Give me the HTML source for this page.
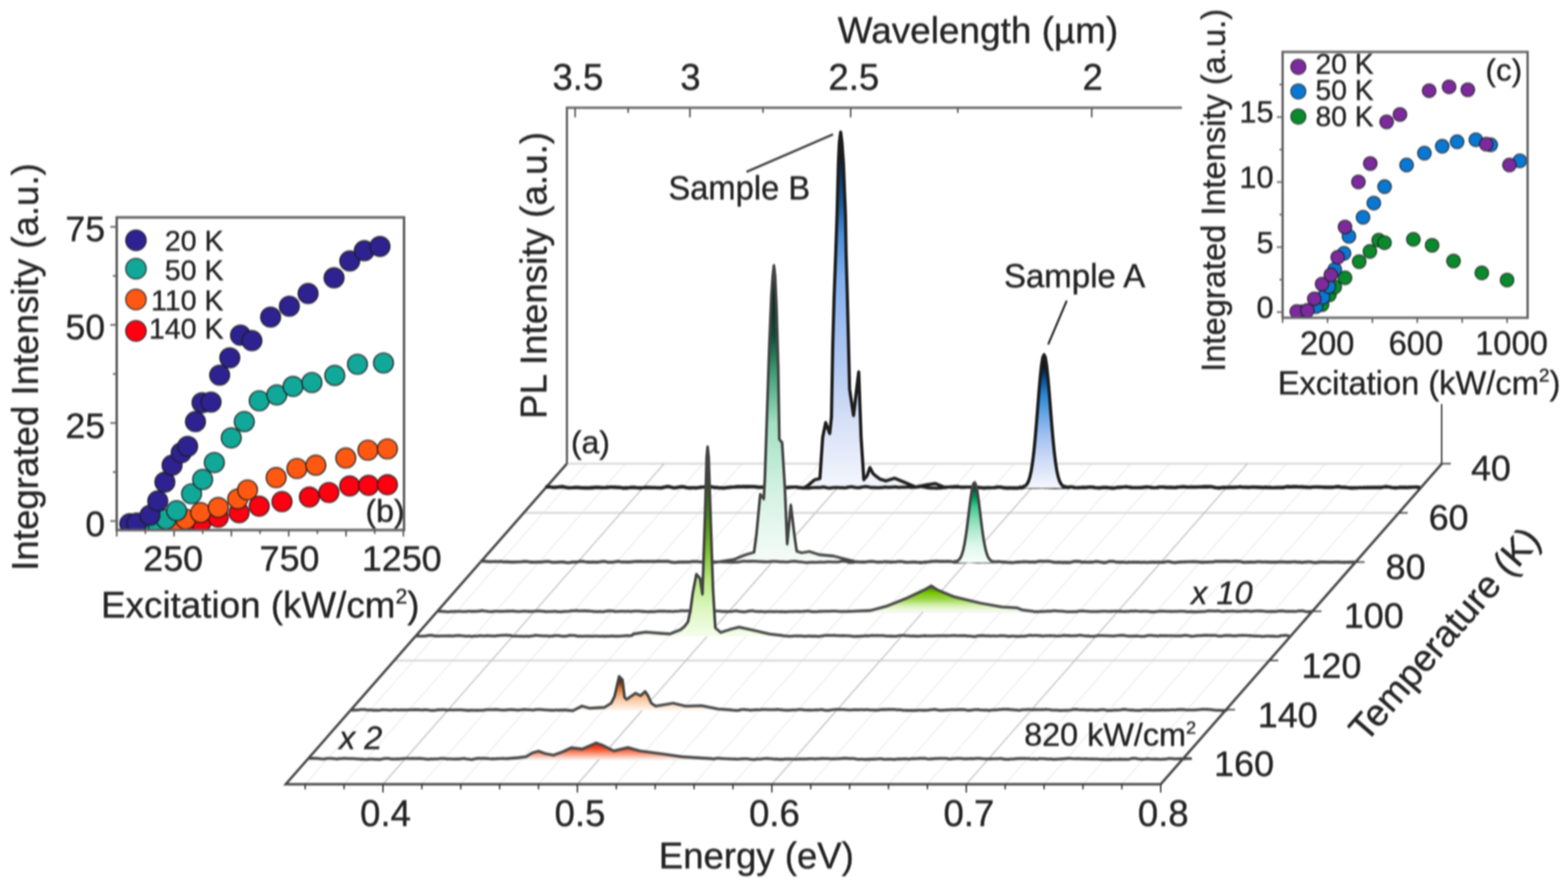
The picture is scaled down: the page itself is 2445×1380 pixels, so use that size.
<!DOCTYPE html>
<html><head><meta charset="utf-8"><title>PL spectra figure</title>
<style>html,body{margin:0;padding:0;background:#fff;} svg{display:block;}</style>
</head><body>
<svg width="2445" height="1380" viewBox="0 0 2445 1380" font-family="Liberation Sans, Arial, Helvetica, sans-serif">
<rect width="100%" height="100%" fill="#fff"/>
<defs>
<linearGradient id="gB" x1="0" y1="0" x2="0" y2="1"><stop offset="0" stop-color="#02060c"/><stop offset="0.07" stop-color="#061a30"/><stop offset="0.125" stop-color="#0a3a6a"/><stop offset="0.2" stop-color="#1a5a9a"/><stop offset="0.29" stop-color="#4a8fd8"/><stop offset="0.41" stop-color="#80b0f0"/><stop offset="0.55" stop-color="#a0bff0"/><stop offset="0.68" stop-color="#b8cdf2"/><stop offset="0.82" stop-color="#d8e1f7"/><stop offset="1" stop-color="#f4f7fd"/></linearGradient>
<linearGradient id="gA" x1="0" y1="0" x2="0" y2="1"><stop offset="0" stop-color="#02060c"/><stop offset="0.1" stop-color="#051a30"/><stop offset="0.2" stop-color="#0a5aa0"/><stop offset="0.3" stop-color="#2a86d6"/><stop offset="0.45" stop-color="#6aa6e6"/><stop offset="0.6" stop-color="#a0c0f0"/><stop offset="0.8" stop-color="#d0ddf7"/><stop offset="1" stop-color="#f6f8fd"/></linearGradient>
<linearGradient id="gT" x1="0" y1="0" x2="0" y2="1"><stop offset="0" stop-color="#020c08"/><stop offset="0.1" stop-color="#06281c"/><stop offset="0.23" stop-color="#0c4a34"/><stop offset="0.35" stop-color="#3a9a70"/><stop offset="0.53" stop-color="#a2e0c2"/><stop offset="0.75" stop-color="#d2f1e2"/><stop offset="1" stop-color="#f7fcf9"/></linearGradient>
<linearGradient id="gT2" x1="0" y1="0" x2="0" y2="1"><stop offset="0" stop-color="#020a06"/><stop offset="0.1" stop-color="#0a5a3a"/><stop offset="0.2" stop-color="#00a060"/><stop offset="0.3" stop-color="#40c890"/><stop offset="0.45" stop-color="#82dcb2"/><stop offset="0.6" stop-color="#b2eacf"/><stop offset="0.8" stop-color="#e0f8ee"/><stop offset="1" stop-color="#f8fffc"/></linearGradient>
<linearGradient id="gG" x1="0" y1="0" x2="0" y2="1"><stop offset="0" stop-color="#3a6c00"/><stop offset="0.25" stop-color="#76c200"/><stop offset="0.5" stop-color="#98d646"/><stop offset="0.75" stop-color="#d6f0b2"/><stop offset="1" stop-color="#fafef5"/></linearGradient>
<linearGradient id="gY" x1="0" y1="0" x2="0" y2="1"><stop offset="0" stop-color="#050a02"/><stop offset="0.12" stop-color="#1a3a06"/><stop offset="0.25" stop-color="#2e6a0a"/><stop offset="0.4" stop-color="#4f960e"/><stop offset="0.55" stop-color="#7cc030"/><stop offset="0.7" stop-color="#b8e880"/><stop offset="0.85" stop-color="#dcf6c0"/><stop offset="1" stop-color="#f6fdec"/></linearGradient>
<linearGradient id="gO" x1="0" y1="0" x2="0" y2="1"><stop offset="0" stop-color="#180700"/><stop offset="0.18" stop-color="#782e00"/><stop offset="0.35" stop-color="#de782e"/><stop offset="0.6" stop-color="#f7be92"/><stop offset="0.85" stop-color="#fde3cf"/><stop offset="1" stop-color="#fff9f5"/></linearGradient>
<linearGradient id="gR" x1="0" y1="0" x2="0" y2="1"><stop offset="0" stop-color="#e01a00"/><stop offset="0.35" stop-color="#f34e2a"/><stop offset="0.65" stop-color="#f99a7e"/><stop offset="1" stop-color="#fff1ed"/></linearGradient>
<filter id="soft" x="0" y="0" width="2445" height="1380" filterUnits="userSpaceOnUse" color-interpolation-filters="sRGB"><feGaussianBlur stdDeviation="1.1 1.4"/></filter>
<clipPath id="cb"><rect x="182" y="339" width="448" height="487.5"/></clipPath>
<clipPath id="cc"><rect x="2000" y="81" width="382" height="414.5"/></clipPath>
</defs>
<g filter="url(#soft)">
<rect width="2445" height="1380" fill="#fff"/>
<line x1="914.32" y1="723" x2="475.86" y2="1222.83" stroke="#efefef" stroke-width="2"/>
<line x1="974.96" y1="723" x2="536.5" y2="1222.83" stroke="#efefef" stroke-width="2"/>
<line x1="1096.24" y1="723" x2="657.78" y2="1222.83" stroke="#efefef" stroke-width="2"/>
<line x1="1156.88" y1="723" x2="718.42" y2="1222.83" stroke="#efefef" stroke-width="2"/>
<line x1="1217.52" y1="723" x2="779.06" y2="1222.83" stroke="#efefef" stroke-width="2"/>
<line x1="1278.16" y1="723" x2="839.7" y2="1222.83" stroke="#efefef" stroke-width="2"/>
<line x1="1399.44" y1="723" x2="960.98" y2="1222.83" stroke="#efefef" stroke-width="2"/>
<line x1="1460.08" y1="723" x2="1021.62" y2="1222.83" stroke="#efefef" stroke-width="2"/>
<line x1="1520.72" y1="723" x2="1082.26" y2="1222.83" stroke="#efefef" stroke-width="2"/>
<line x1="1581.36" y1="723" x2="1142.9" y2="1222.83" stroke="#efefef" stroke-width="2"/>
<line x1="1702.64" y1="723" x2="1264.18" y2="1222.83" stroke="#efefef" stroke-width="2"/>
<line x1="1763.28" y1="723" x2="1324.82" y2="1222.83" stroke="#efefef" stroke-width="2"/>
<line x1="1823.92" y1="723" x2="1385.46" y2="1222.83" stroke="#efefef" stroke-width="2"/>
<line x1="1884.56" y1="723" x2="1446.1" y2="1222.83" stroke="#efefef" stroke-width="2"/>
<line x1="2005.84" y1="723" x2="1567.38" y2="1222.83" stroke="#efefef" stroke-width="2"/>
<line x1="2066.48" y1="723" x2="1628.02" y2="1222.83" stroke="#efefef" stroke-width="2"/>
<line x1="2127.12" y1="723" x2="1688.66" y2="1222.83" stroke="#efefef" stroke-width="2"/>
<line x1="2187.76" y1="723" x2="1749.3" y2="1222.83" stroke="#efefef" stroke-width="2"/>
<line x1="884" y1="723" x2="2248.4" y2="723" stroke="#d7d7d7" stroke-width="3"/>
<line x1="816.7" y1="799.72" x2="2181.1" y2="799.72" stroke="#d7d7d7" stroke-width="3"/>
<line x1="749.4" y1="876.44" x2="2113.8" y2="876.44" stroke="#d7d7d7" stroke-width="3"/>
<line x1="682.1" y1="953.16" x2="2046.5" y2="953.16" stroke="#d7d7d7" stroke-width="3"/>
<line x1="614.8" y1="1029.88" x2="1979.2" y2="1029.88" stroke="#d7d7d7" stroke-width="3"/>
<line x1="547.5" y1="1106.6" x2="1911.9" y2="1106.6" stroke="#d7d7d7" stroke-width="3"/>
<line x1="480.2" y1="1183.32" x2="1844.6" y2="1183.32" stroke="#d7d7d7" stroke-width="3"/>
<line x1="1035.6" y1="723" x2="597.14" y2="1222.83" stroke="#bcbcbc" stroke-width="1.7"/>
<line x1="1338.8" y1="723" x2="900.34" y2="1222.83" stroke="#bcbcbc" stroke-width="1.7"/>
<line x1="1642" y1="723" x2="1203.54" y2="1222.83" stroke="#bcbcbc" stroke-width="1.7"/>
<line x1="1945.2" y1="723" x2="1506.74" y2="1222.83" stroke="#bcbcbc" stroke-width="1.7"/>
<polyline points="884,723 445.54,1222.83 1809.94,1222.83 2248.4,723" fill="none" stroke="#444" stroke-width="3.8" stroke-linejoin="miter"/>
<line x1="475.86" y1="1222.83" x2="475.86" y2="1230.83" stroke="#333" stroke-width="2.2"/>
<line x1="536.5" y1="1222.83" x2="536.5" y2="1230.83" stroke="#333" stroke-width="2.2"/>
<line x1="597.14" y1="1222.83" x2="597.14" y2="1235.83" stroke="#333" stroke-width="2.2"/>
<line x1="657.78" y1="1222.83" x2="657.78" y2="1230.83" stroke="#333" stroke-width="2.2"/>
<line x1="718.42" y1="1222.83" x2="718.42" y2="1230.83" stroke="#333" stroke-width="2.2"/>
<line x1="779.06" y1="1222.83" x2="779.06" y2="1230.83" stroke="#333" stroke-width="2.2"/>
<line x1="839.7" y1="1222.83" x2="839.7" y2="1230.83" stroke="#333" stroke-width="2.2"/>
<line x1="900.34" y1="1222.83" x2="900.34" y2="1235.83" stroke="#333" stroke-width="2.2"/>
<line x1="960.98" y1="1222.83" x2="960.98" y2="1230.83" stroke="#333" stroke-width="2.2"/>
<line x1="1021.62" y1="1222.83" x2="1021.62" y2="1230.83" stroke="#333" stroke-width="2.2"/>
<line x1="1082.26" y1="1222.83" x2="1082.26" y2="1230.83" stroke="#333" stroke-width="2.2"/>
<line x1="1142.9" y1="1222.83" x2="1142.9" y2="1230.83" stroke="#333" stroke-width="2.2"/>
<line x1="1203.54" y1="1222.83" x2="1203.54" y2="1235.83" stroke="#333" stroke-width="2.2"/>
<line x1="1264.18" y1="1222.83" x2="1264.18" y2="1230.83" stroke="#333" stroke-width="2.2"/>
<line x1="1324.82" y1="1222.83" x2="1324.82" y2="1230.83" stroke="#333" stroke-width="2.2"/>
<line x1="1385.46" y1="1222.83" x2="1385.46" y2="1230.83" stroke="#333" stroke-width="2.2"/>
<line x1="1446.1" y1="1222.83" x2="1446.1" y2="1230.83" stroke="#333" stroke-width="2.2"/>
<line x1="1506.74" y1="1222.83" x2="1506.74" y2="1235.83" stroke="#333" stroke-width="2.2"/>
<line x1="1567.38" y1="1222.83" x2="1567.38" y2="1230.83" stroke="#333" stroke-width="2.2"/>
<line x1="1628.02" y1="1222.83" x2="1628.02" y2="1230.83" stroke="#333" stroke-width="2.2"/>
<line x1="1688.66" y1="1222.83" x2="1688.66" y2="1230.83" stroke="#333" stroke-width="2.2"/>
<line x1="1749.3" y1="1222.83" x2="1749.3" y2="1230.83" stroke="#333" stroke-width="2.2"/>
<line x1="1809.94" y1="1222.83" x2="1809.94" y2="1235.83" stroke="#333" stroke-width="2.2"/>
<line x1="2248.4" y1="723" x2="2262.4" y2="723" stroke="#333" stroke-width="2.2"/>
<line x1="2181.1" y1="799.72" x2="2195.1" y2="799.72" stroke="#333" stroke-width="2.2"/>
<line x1="2113.8" y1="876.44" x2="2127.8" y2="876.44" stroke="#333" stroke-width="2.2"/>
<line x1="2046.5" y1="953.16" x2="2060.5" y2="953.16" stroke="#333" stroke-width="2.2"/>
<line x1="1979.2" y1="1029.88" x2="1993.2" y2="1029.88" stroke="#333" stroke-width="2.2"/>
<line x1="1911.9" y1="1106.6" x2="1925.9" y2="1106.6" stroke="#333" stroke-width="2.2"/>
<line x1="1844.6" y1="1183.32" x2="1858.6" y2="1183.32" stroke="#333" stroke-width="2.2"/>
<polyline points="884,723 884,168 1843,168" fill="none" stroke="#5c5c5c" stroke-width="3.4"/>
<line x1="896.82" y1="168" x2="896.82" y2="183" stroke="#5c5c5c" stroke-width="2.6"/>
<line x1="979.44" y1="168" x2="979.44" y2="176" stroke="#5c5c5c" stroke-width="2.6"/>
<line x1="1075.82" y1="168" x2="1075.82" y2="183" stroke="#5c5c5c" stroke-width="2.6"/>
<line x1="1189.74" y1="168" x2="1189.74" y2="176" stroke="#5c5c5c" stroke-width="2.6"/>
<line x1="1326.43" y1="168" x2="1326.43" y2="183" stroke="#5c5c5c" stroke-width="2.6"/>
<line x1="1493.5" y1="168" x2="1493.5" y2="176" stroke="#5c5c5c" stroke-width="2.6"/>
<line x1="1702.34" y1="168" x2="1702.34" y2="183" stroke="#5c5c5c" stroke-width="2.6"/>
<path d="M850.35,759.52 L853.35,759.16 L856.36,759.38 L859.36,759.48 L862.37,759.98 L865.37,760.03 L868.38,759.66 L871.38,759.3 L874.39,759.18 L877.39,759.03 L880.4,759.52 L883.4,760.31 L886.41,760.8 L889.41,760.49 L892.42,760.61 L895.42,759.97 L898.43,760.04 L901.43,760.07 L904.44,760.27 L907.44,760.52 L910.45,760.48 L913.45,760.66 L916.46,760.66 L919.46,760.51 L922.47,760.29 L925.47,760.11 L928.48,760 L931.48,760.05 L934.48,760.05 L937.49,760.28 L940.49,760.29 L943.5,760.44 L946.5,760.18 L949.51,759.67 L952.51,759.68 L955.52,759.88 L958.52,759.96 L961.53,759.89 L964.53,759.86 L967.54,760.2 L970.54,760.7 L973.55,760.66 L976.55,760.59 L979.56,760.62 L982.56,760.31 L985.57,760.02 L988.57,759.98 L991.58,760.43 L994.58,760.64 L997.59,760.65 L1000.59,760.72 L1003.6,760.55 L1006.6,760.15 L1009.61,759.93 L1012.61,760.3 L1015.61,760.34 L1018.62,760.54 L1021.62,760.23 L1024.63,760.39 L1027.63,760.63 L1030.64,760.55 L1033.64,760.06 L1036.65,759.44 L1039.65,758.97 L1042.66,759.03 L1045.66,759.53 L1048.67,760.15 L1051.67,760.67 L1054.68,760.29 L1057.68,759.86 L1060.69,759.57 L1063.69,759.44 L1066.7,759.47 L1069.7,760.09 L1072.71,760.46 L1075.71,760.81 L1078.72,760.45 L1081.72,760.51 L1084.73,760.56 L1087.73,760.51 L1090.74,760.11 L1093.74,759.52 L1096.74,759.47 L1099.75,759.35 L1102.75,759.27 L1105.76,759.35 L1108.76,759.19 L1111.77,759.66 L1114.77,760.19 L1117.78,760.12 L1120.78,760.54 L1123.79,760.73 L1126.79,760.83 L1129.8,760.66 L1132.8,760.28 L1135.81,760.16 L1138.81,759.61 L1141.82,759.62 L1144.82,759.4 L1147.83,759.25 L1150.83,759 L1153.84,759.03 L1156.84,758.96 L1159.85,759.04 L1162.85,759.29 L1165.86,759.17 L1168.86,758.96 L1171.87,759.02 L1174.87,759.12 L1177.87,759.2 L1180.88,759.79 L1183.88,759.97 L1186.89,759.75 L1189.89,759.64 L1192.9,759.72 L1195.9,759.82 L1198.91,760.04 L1201.91,759.61 L1204.92,759.48 L1207.92,759.81 L1210.93,760 L1213.93,760.64 L1216.94,760.58 L1219.94,760.92 L1222.95,760.56 L1225.95,760.21 L1228.96,759.98 L1231.96,759.75 L1234.97,759.85 L1237.97,759.6 L1240.98,759.56 L1243.98,759.83 L1246.99,760.5 L1249.99,760.74 L1253,760.68 L1256,759.5 L1261,756 L1270,748.3 L1278.5,746 L1282.8,682 L1287.5,659 L1293.8,676 L1296.5,650 L1298.5,540 L1300.6,464 L1303.2,394 L1305.2,335 L1307.3,255 L1308.8,222 L1310.9,206 L1312.8,222 L1315.2,255 L1318.3,335 L1319.3,394 L1321.3,464 L1324.8,607 L1330.9,648 L1339,580 L1342.7,682 L1347,748 L1352,742 L1356.5,729.2 L1361,738 L1364.8,741.6 L1372,747 L1381.3,749.9 L1395.1,745.7 L1411.6,752.6 L1428,759.5 L1445,756 L1458.5,754 L1472,759.5 L1475.01,759.96 L1478.01,759.43 L1481.02,759.4 L1484.02,759.33 L1487.03,759.4 L1490.03,759.41 L1493.04,759.39 L1496.04,759.62 L1499.05,759.92 L1502.05,759.82 L1505.06,759.73 L1508.07,759.57 L1511.07,759.42 L1514.08,759.7 L1517.08,759.8 L1520.09,759.91 L1523.09,760.25 L1526.1,760.02 L1529.1,760.4 L1532.11,760.66 L1535.11,760.68 L1538.12,760.52 L1541.13,760.34 L1544.13,760.61 L1547.14,760.6 L1550.14,760.54 L1553.15,759.95 L1556.15,759.7 L1559.16,759.84 L1562.16,759.88 L1565.17,760.32 L1568.17,760.61 L1571.18,760.95 L1574.19,760.59 L1577.19,760.9 L1580.2,760.81 L1583.2,760.68 L1586.21,760.83 L1589.21,760.67 L1592.22,761.05 L1595.22,760.38 L1598.23,759.6 L1601.24,759.36 L1604.24,759.39 L1607.25,759.64 L1610.25,759.63 L1613.26,759.78 L1616.26,759.69 L1619.27,759.72 L1622.27,759.45 L1625.28,759.38 L1628.28,759.86 L1631.29,759.7 L1634.3,759.83 L1637.3,760.09 L1640.31,759.95 L1643.31,760.32 L1646.32,760.17 L1649.32,760.13 L1652.33,759.82 L1655.33,759.98 L1658.34,759.73 L1661.34,759.96 L1664.35,759.41 L1667.36,759.42 L1670.36,759.56 L1673.37,759.81 L1676.37,760.28 L1679.38,760.55 L1682.38,760.14 L1685.39,760.24 L1688.39,759.99 L1691.4,760.22 L1694.4,759.93 L1697.41,759.75 L1700.42,759.73 L1703.42,759.7 L1706.43,760.21 L1709.43,760.6 L1712.44,760.84 L1715.44,760.56 L1718.45,760.3 L1721.45,760.05 L1724.46,760.15 L1727.46,760.48 L1730.47,760.84 L1733.48,760.67 L1736.48,760.93 L1739.49,760.62 L1742.49,760.01 L1745.5,760.07 L1748.5,759.71 L1751.51,759.47 L1754.51,759.14 L1757.52,759.51 L1760.52,759.87 L1763.53,759.91 L1766.54,760.41 L1769.54,760.12 L1772.55,760.49 L1775.55,760.52 L1778.56,760.51 L1781.56,760.05 L1784.57,759.77 L1787.57,759.77 L1790.58,759.38 L1793.58,759.87 L1796.59,760.36 L1799.6,760.51 L1802.6,760.36 L1805.61,760.12 L1808.61,759.34 L1811.62,759.43 L1814.62,759.37 L1817.63,759.79 L1820.63,760.14 L1823.64,759.88 L1826.64,760.31 L1829.65,760.18 L1832.66,760.26 L1835.66,759.8 L1838.67,759.41 L1841.67,759.51 L1844.68,759.11 L1847.68,759.32 L1850.69,759.69 L1853.69,759.74 L1856.7,759.41 L1859.71,759.79 L1862.71,759.61 L1865.72,759.67 L1868.72,759.3 L1871.73,759.5 L1874.73,759.25 L1877.74,759.48 L1880.74,759.32 L1883.75,759.39 L1886.75,759.02 L1889.76,759.1 L1892.77,759.97 L1895.77,760.34 L1898.78,760.56 L1901.78,760.77 L1904.79,760.23 L1907.79,759.96 L1910.8,759.96 L1913.8,759.89 L1916.81,759.89 L1919.81,759.82 L1922.82,759.92 L1925.83,759.71 L1928.83,759.7 L1931.84,759.36 L1934.84,759.39 L1937.85,759.68 L1940.85,759.71 L1943.86,759.75 L1946.86,759.99 L1949.87,759.72 L1952.87,759.41 L1955.88,759.8 L1958.89,759.52 L1961.89,760.04 L1964.9,759.92 L1967.9,760.13 L1970.91,759.92 L1973.91,759.99 L1976.92,760.24 L1979.92,760.01 L1982.93,760.4 L1985.93,760.43 L1988.94,760.28 L1991.95,760.22 L1994.95,760.04 L1997.96,760.06 L2000.96,760.19 L2003.97,759.55 L2006.97,759.14 L2009.98,759.4 L2012.98,759.42 L2015.99,759.33 L2018.99,759.14 L2022,759.17 L2025.01,759.35 L2028.01,759.32 L2031.02,759.42 L2034.02,759.83 L2037.03,759.98 L2040.03,759.9 L2043.04,760.13 L2046.04,759.7 L2049.05,759.57 L2052.05,759.3 L2055.06,759.55 L2058.07,759.65 L2061.07,759.6 L2064.08,759.54 L2067.08,759.71 L2070.09,759.71 L2073.09,759.94 L2076.1,759.75 L2079.1,759.66 L2082.11,759.27 L2085.11,759.23 L2088.12,759.38 L2091.13,759.65 L2094.13,760.02 L2097.14,760 L2100.14,760.08 L2103.15,760.67 L2106.15,760.46 L2109.16,760.75 L2112.16,760.37 L2115.17,760.65 L2118.18,760.6 L2121.18,760.5 L2124.19,760.48 L2127.19,760.08 L2130.2,760.23 L2133.2,760.36 L2136.21,760.27 L2139.21,760.22 L2142.22,760.24 L2145.22,760.17 L2148.23,760.22 L2151.24,760.01 L2154.24,759.87 L2157.25,759.62 L2160.25,759.1 L2163.26,759.19 L2166.26,759.51 L2169.27,760.1 L2172.27,760.61 L2175.28,760.34 L2178.28,760.55 L2181.29,760.26 L2184.3,759.99 L2187.3,760.07 L2190.31,759.8 L2193.31,760.17 L2196.32,759.85 L2199.32,759.84 L2202.33,759.86 L2205.33,759.43 L2208.34,759.82 L2211.34,759.85 L2214.35,760.16 L2214.35,761 L850.35,761 Z" fill="url(#gB)" stroke="none"/>
<path d="M850.35,759.52 L853.35,759.16 L856.36,759.38 L859.36,759.48 L862.37,759.98 L865.37,760.03 L868.38,759.66 L871.38,759.3 L874.39,759.18 L877.39,759.03 L880.4,759.52 L883.4,760.31 L886.41,760.8 L889.41,760.49 L892.42,760.61 L895.42,759.97 L898.43,760.04 L901.43,760.07 L904.44,760.27 L907.44,760.52 L910.45,760.48 L913.45,760.66 L916.46,760.66 L919.46,760.51 L922.47,760.29 L925.47,760.11 L928.48,760 L931.48,760.05 L934.48,760.05 L937.49,760.28 L940.49,760.29 L943.5,760.44 L946.5,760.18 L949.51,759.67 L952.51,759.68 L955.52,759.88 L958.52,759.96 L961.53,759.89 L964.53,759.86 L967.54,760.2 L970.54,760.7 L973.55,760.66 L976.55,760.59 L979.56,760.62 L982.56,760.31 L985.57,760.02 L988.57,759.98 L991.58,760.43 L994.58,760.64 L997.59,760.65 L1000.59,760.72 L1003.6,760.55 L1006.6,760.15 L1009.61,759.93 L1012.61,760.3 L1015.61,760.34 L1018.62,760.54 L1021.62,760.23 L1024.63,760.39 L1027.63,760.63 L1030.64,760.55 L1033.64,760.06 L1036.65,759.44 L1039.65,758.97 L1042.66,759.03 L1045.66,759.53 L1048.67,760.15 L1051.67,760.67 L1054.68,760.29 L1057.68,759.86 L1060.69,759.57 L1063.69,759.44 L1066.7,759.47 L1069.7,760.09 L1072.71,760.46 L1075.71,760.81 L1078.72,760.45 L1081.72,760.51 L1084.73,760.56 L1087.73,760.51 L1090.74,760.11 L1093.74,759.52 L1096.74,759.47 L1099.75,759.35 L1102.75,759.27 L1105.76,759.35 L1108.76,759.19 L1111.77,759.66 L1114.77,760.19 L1117.78,760.12 L1120.78,760.54 L1123.79,760.73 L1126.79,760.83 L1129.8,760.66 L1132.8,760.28 L1135.81,760.16 L1138.81,759.61 L1141.82,759.62 L1144.82,759.4 L1147.83,759.25 L1150.83,759 L1153.84,759.03 L1156.84,758.96 L1159.85,759.04 L1162.85,759.29 L1165.86,759.17 L1168.86,758.96 L1171.87,759.02 L1174.87,759.12 L1177.87,759.2 L1180.88,759.79 L1183.88,759.97 L1186.89,759.75 L1189.89,759.64 L1192.9,759.72 L1195.9,759.82 L1198.91,760.04 L1201.91,759.61 L1204.92,759.48 L1207.92,759.81 L1210.93,760 L1213.93,760.64 L1216.94,760.58 L1219.94,760.92 L1222.95,760.56 L1225.95,760.21 L1228.96,759.98 L1231.96,759.75 L1234.97,759.85 L1237.97,759.6 L1240.98,759.56 L1243.98,759.83 L1246.99,760.5 L1249.99,760.74 L1253,760.68 L1256,759.5 L1261,756 L1270,748.3 L1278.5,746 L1282.8,682 L1287.5,659 L1293.8,676 L1296.5,650 L1298.5,540 L1300.6,464 L1303.2,394 L1305.2,335 L1307.3,255 L1308.8,222 L1310.9,206 L1312.8,222 L1315.2,255 L1318.3,335 L1319.3,394 L1321.3,464 L1324.8,607 L1330.9,648 L1339,580 L1342.7,682 L1347,748 L1352,742 L1356.5,729.2 L1361,738 L1364.8,741.6 L1372,747 L1381.3,749.9 L1395.1,745.7 L1411.6,752.6 L1428,759.5 L1445,756 L1458.5,754 L1472,759.5 L1475.01,759.96 L1478.01,759.43 L1481.02,759.4 L1484.02,759.33 L1487.03,759.4 L1490.03,759.41 L1493.04,759.39 L1496.04,759.62 L1499.05,759.92 L1502.05,759.82 L1505.06,759.73 L1508.07,759.57 L1511.07,759.42 L1514.08,759.7 L1517.08,759.8 L1520.09,759.91 L1523.09,760.25 L1526.1,760.02 L1529.1,760.4 L1532.11,760.66 L1535.11,760.68 L1538.12,760.52 L1541.13,760.34 L1544.13,760.61 L1547.14,760.6 L1550.14,760.54 L1553.15,759.95 L1556.15,759.7 L1559.16,759.84 L1562.16,759.88 L1565.17,760.32 L1568.17,760.61 L1571.18,760.95 L1574.19,760.59 L1577.19,760.9 L1580.2,760.81 L1583.2,760.68 L1586.21,760.83 L1589.21,760.67 L1592.22,761.05 L1595.22,760.38 L1598.23,759.6 L1601.24,759.36 L1604.24,759.39 L1607.25,759.64 L1610.25,759.63 L1613.26,759.78 L1616.26,759.69 L1619.27,759.72 L1622.27,759.45 L1625.28,759.38 L1628.28,759.86 L1631.29,759.7 L1634.3,759.83 L1637.3,760.09 L1640.31,759.95 L1643.31,760.32 L1646.32,760.17 L1649.32,760.13 L1652.33,759.82 L1655.33,759.98 L1658.34,759.73 L1661.34,759.96 L1664.35,759.41 L1667.36,759.42 L1670.36,759.56 L1673.37,759.81 L1676.37,760.28 L1679.38,760.55 L1682.38,760.14 L1685.39,760.24 L1688.39,759.99 L1691.4,760.22 L1694.4,759.93 L1697.41,759.75 L1700.42,759.73 L1703.42,759.7 L1706.43,760.21 L1709.43,760.6 L1712.44,760.84 L1715.44,760.56 L1718.45,760.3 L1721.45,760.05 L1724.46,760.15 L1727.46,760.48 L1730.47,760.84 L1733.48,760.67 L1736.48,760.93 L1739.49,760.62 L1742.49,760.01 L1745.5,760.07 L1748.5,759.71 L1751.51,759.47 L1754.51,759.14 L1757.52,759.51 L1760.52,759.87 L1763.53,759.91 L1766.54,760.41 L1769.54,760.12 L1772.55,760.49 L1775.55,760.52 L1778.56,760.51 L1781.56,760.05 L1784.57,759.77 L1787.57,759.77 L1790.58,759.38 L1793.58,759.87 L1796.59,760.36 L1799.6,760.51 L1802.6,760.36 L1805.61,760.12 L1808.61,759.34 L1811.62,759.43 L1814.62,759.37 L1817.63,759.79 L1820.63,760.14 L1823.64,759.88 L1826.64,760.31 L1829.65,760.18 L1832.66,760.26 L1835.66,759.8 L1838.67,759.41 L1841.67,759.51 L1844.68,759.11 L1847.68,759.32 L1850.69,759.69 L1853.69,759.74 L1856.7,759.41 L1859.71,759.79 L1862.71,759.61 L1865.72,759.67 L1868.72,759.3 L1871.73,759.5 L1874.73,759.25 L1877.74,759.48 L1880.74,759.32 L1883.75,759.39 L1886.75,759.02 L1889.76,759.1 L1892.77,759.97 L1895.77,760.34 L1898.78,760.56 L1901.78,760.77 L1904.79,760.23 L1907.79,759.96 L1910.8,759.96 L1913.8,759.89 L1916.81,759.89 L1919.81,759.82 L1922.82,759.92 L1925.83,759.71 L1928.83,759.7 L1931.84,759.36 L1934.84,759.39 L1937.85,759.68 L1940.85,759.71 L1943.86,759.75 L1946.86,759.99 L1949.87,759.72 L1952.87,759.41 L1955.88,759.8 L1958.89,759.52 L1961.89,760.04 L1964.9,759.92 L1967.9,760.13 L1970.91,759.92 L1973.91,759.99 L1976.92,760.24 L1979.92,760.01 L1982.93,760.4 L1985.93,760.43 L1988.94,760.28 L1991.95,760.22 L1994.95,760.04 L1997.96,760.06 L2000.96,760.19 L2003.97,759.55 L2006.97,759.14 L2009.98,759.4 L2012.98,759.42 L2015.99,759.33 L2018.99,759.14 L2022,759.17 L2025.01,759.35 L2028.01,759.32 L2031.02,759.42 L2034.02,759.83 L2037.03,759.98 L2040.03,759.9 L2043.04,760.13 L2046.04,759.7 L2049.05,759.57 L2052.05,759.3 L2055.06,759.55 L2058.07,759.65 L2061.07,759.6 L2064.08,759.54 L2067.08,759.71 L2070.09,759.71 L2073.09,759.94 L2076.1,759.75 L2079.1,759.66 L2082.11,759.27 L2085.11,759.23 L2088.12,759.38 L2091.13,759.65 L2094.13,760.02 L2097.14,760 L2100.14,760.08 L2103.15,760.67 L2106.15,760.46 L2109.16,760.75 L2112.16,760.37 L2115.17,760.65 L2118.18,760.6 L2121.18,760.5 L2124.19,760.48 L2127.19,760.08 L2130.2,760.23 L2133.2,760.36 L2136.21,760.27 L2139.21,760.22 L2142.22,760.24 L2145.22,760.17 L2148.23,760.22 L2151.24,760.01 L2154.24,759.87 L2157.25,759.62 L2160.25,759.1 L2163.26,759.19 L2166.26,759.51 L2169.27,760.1 L2172.27,760.61 L2175.28,760.34 L2178.28,760.55 L2181.29,760.26 L2184.3,759.99 L2187.3,760.07 L2190.31,759.8 L2193.31,760.17 L2196.32,759.85 L2199.32,759.84 L2202.33,759.86 L2205.33,759.43 L2208.34,759.82 L2211.34,759.85 L2214.35,760.16" fill="none" stroke="#1e1e1e" stroke-width="5" stroke-linejoin="round"/>
<path d="M850.35,759.19 L853.36,759.19 L856.36,759.34 L859.37,759.63 L862.38,760.03 L865.38,759.88 L868.39,759.64 L871.4,759.16 L874.4,758.99 L877.41,758.78 L880.42,759.55 L883.42,760.12 L886.43,760.62 L889.44,760.66 L892.44,760.62 L895.45,760.38 L898.46,760.29 L901.46,760.26 L904.47,760.67 L907.48,760.88 L910.48,760.91 L913.49,760.7 L916.5,761.04 L919.5,760.67 L922.51,760.98 L925.52,760.69 L928.52,759.97 L931.53,760.11 L934.54,760.36 L937.54,760.58 L940.55,760.43 L943.56,760.31 L946.56,759.96 L949.57,759.92 L952.58,759.34 L955.58,759.6 L958.59,759.6 L961.6,760.01 L964.6,760.3 L967.61,760.17 L970.62,761 L973.62,761.21 L976.63,761.37 L979.64,760.87 L982.65,760.11 L985.65,760.17 L988.66,760.1 L991.67,760.26 L994.67,760.62 L997.68,760.96 L1000.69,760.76 L1003.69,760.36 L1006.7,760.05 L1009.71,760.14 L1012.71,760.2 L1015.72,760.55 L1018.73,760.18 L1021.73,760.61 L1024.74,760.82 L1027.75,760.61 L1030.75,761.03 L1033.76,760.4 L1036.77,759.63 L1039.77,758.72 L1042.78,758.82 L1045.79,759.48 L1048.79,760.57 L1051.8,760.74 L1054.81,760.36 L1057.81,759.69 L1060.82,758.96 L1063.83,758.71 L1066.83,759.23 L1069.84,760.4 L1072.85,760.67 L1075.85,761.06 L1078.86,760.77 L1081.87,760.85 L1084.87,761 L1087.88,760.57 L1090.89,760 L1093.89,759.68 L1096.9,759.49 L1099.91,759.3 L1102.91,758.96 L1105.92,758.93 L1108.93,759.06 L1111.93,759.48 L1114.94,760.29 L1117.95,760.27 L1120.95,760.7 L1123.96,760.78 L1126.97,761.12 L1129.97,761.09 L1132.98,760.55 L1135.99,759.88 L1138.99,759.96 L1142,759.47 L1145.01,759.34 L1148.01,758.94 L1151.02,758.77 L1154.03,758.96 L1157.03,759.01 L1160.04,758.59 L1163.05,758.78 L1166.05,758.62 L1169.06,758.78 L1172.07,758.71 L1175.07,758.67 L1178.08,758.97 L1181.09,759.32 L1184.09,759.81 L1187.1,759.66 L1190.11,759.64 L1193.11,760.09 L1196.12,760.15 L1199.13,759.79 L1202.13,759.5 L1205.14,759.44 L1208.15,759.53 L1211.15,760.22 L1214.16,760.72 L1217.17,761.04 L1220.17,760.84 L1223.18,760.55 L1226.19,760.34 L1229.2,760.18 L1232.2,759.81 L1235.21,759.52 L1238.22,759.4 L1241.22,759.45 L1244.23,759.92 L1247.24,760.31 L1250.24,760.61 L1253.25,761 L1256.26,760.65 L1259.26,760.91 L1262.27,761.08 L1265.28,760.58 L1268.28,760.37 L1271.29,760.22 L1274.3,760.25 L1277.3,760.28 L1280.31,760 L1283.32,759.5 L1286.32,759.76 L1289.33,760.6 L1292.34,761.1 L1295.34,760.98 L1298.35,760.37 L1301.36,760.13 L1304.36,760.15 L1307.37,760.21 L1310.38,760.61 L1313.38,760.6 L1316.39,760.67 L1319.4,760.45 L1322.4,759.77 L1325.41,759.3 L1328.42,759.12 L1331.42,759.67 L1334.43,760.18 L1337.44,760.59 L1340.44,760.51 L1343.45,759.57 L1346.46,759.24 L1349.46,758.71 L1352.47,758.97 L1355.48,759.68 L1358.48,760.37 L1361.49,760.19 L1364.5,760.21 L1367.5,760.5 L1370.51,760.56 L1373.52,760.28 L1376.52,760.16 L1379.53,759.56 L1382.54,759.69 L1385.54,759.89 L1388.55,759.64 L1391.56,759.69 L1394.56,759.37 L1397.57,759.52 L1400.58,760.07 L1403.58,760.04 L1406.59,759.64 L1409.6,759.71 L1412.6,759.64 L1415.61,759.38 L1418.62,759.65 L1421.62,759.9 L1424.63,759.64 L1427.64,759.66 L1430.64,759.37 L1433.65,759.09 L1436.66,758.64 L1439.66,759.18 L1442.67,759.83 L1445.68,760.41 L1448.68,760.68 L1451.69,761.05 L1454.7,760.94 L1457.7,761.07 L1460.71,761.32 L1463.72,760.89 L1466.72,760.97 L1469.73,760.62 L1472.74,760.27 L1475.75,759.77 L1478.75,759.38 L1481.76,759.37 L1484.77,759.38 L1487.77,758.76 L1490.78,758.73 L1493.79,758.7 L1496.79,759.45 L1499.8,759.47 L1502.81,759.64 L1505.81,759.55 L1508.82,759.49 L1511.83,759.53 L1514.83,759.48 L1517.84,759.67 L1520.85,760.24 L1523.85,760.51 L1526.86,760.27 L1529.87,760.35 L1532.87,760.91 L1535.88,760.9 L1538.89,760.52 L1541.89,760.79 L1544.9,760.6 L1547.91,760.57 L1550.91,760.26 L1553.92,759.73 L1556.93,759.34 L1559.93,759.57 L1562.94,760.16 L1565.95,761.1 L1568.95,760.97 L1571.96,761.38 L1574.97,760.95 L1577.97,760.99 L1580.98,761.22 L1583.99,761.27 L1586.99,761.16 L1590,759.84 L1592,759.53 L1594,760.25 L1596,758.45 L1598,757.85 L1600,756.51 L1602,753.87 L1604,749.68 L1606,743.34 L1608,734.2 L1610,721.68 L1612,705.41 L1614,685.39 L1616,662.19 L1618,637.01 L1620,611.66 L1622,588.38 L1624,569.54 L1626,557.27 L1628,553 L1630,557.27 L1632,569.54 L1634,588.38 L1636,611.66 L1638,637.01 L1640,662.19 L1642,685.39 L1644,705.41 L1646,721.68 L1648,734.2 L1650,743.34 L1652,749.68 L1654,753.87 L1656,756.51 L1658,758.8 L1660,758.15 L1662,759.34 L1664,760.32 L1666,760.37 L1669.01,758.97 L1672.03,759.37 L1675.04,760.39 L1678.05,760.44 L1681.06,760.67 L1684.08,760.59 L1687.09,760.14 L1690.1,760.03 L1693.12,760.24 L1696.13,759.78 L1699.14,759.35 L1702.15,759.57 L1705.17,759.85 L1708.18,760.52 L1711.19,760.8 L1714.21,761.1 L1717.22,760.8 L1720.23,760.25 L1723.25,760.25 L1726.26,760.02 L1729.27,760.58 L1732.28,761.07 L1735.3,761.34 L1738.31,761.04 L1741.32,760.35 L1744.34,760.04 L1747.35,760 L1750.36,759.6 L1753.37,759.38 L1756.39,758.86 L1759.4,759.48 L1762.41,760.03 L1765.43,760.53 L1768.44,760.58 L1771.45,760.49 L1774.46,760.34 L1777.48,760.33 L1780.49,760.21 L1783.5,759.98 L1786.52,759.2 L1789.53,759.13 L1792.54,759.77 L1795.56,760.18 L1798.57,760.58 L1801.58,760.55 L1804.59,760.27 L1807.61,759.48 L1810.62,759.45 L1813.63,759.53 L1816.65,759.94 L1819.66,759.92 L1822.67,759.93 L1825.68,759.91 L1828.7,760.07 L1831.71,760.14 L1834.72,759.94 L1837.74,759.48 L1840.75,759.14 L1843.76,759.03 L1846.77,759.12 L1849.79,759.33 L1852.8,759.54 L1855.81,759.48 L1858.83,759.21 L1861.84,759.55 L1864.85,759.27 L1867.87,759.38 L1870.88,759.13 L1873.89,759.13 L1876.9,758.78 L1879.92,758.8 L1882.93,758.78 L1885.94,758.72 L1888.96,759.12 L1891.97,759.51 L1894.98,760.24 L1897.99,760.83 L1901.01,761.11 L1904.02,760.59 L1907.03,760.14 L1910.05,760.29 L1913.06,760.2 L1916.07,760.34 L1919.08,759.88 L1922.1,760.04 L1925.11,759.97 L1928.12,759.63 L1931.14,759.44 L1934.15,759.07 L1937.16,759.47 L1940.17,759.69 L1943.19,759.84 L1946.2,760.11 L1949.21,759.65 L1952.23,759.61 L1955.24,759.31 L1958.25,759.72 L1961.27,759.76 L1964.28,759.81 L1967.29,760.08 L1970.3,760.18 L1973.32,759.78 L1976.33,760.04 L1979.34,760.15 L1982.36,760.16 L1985.37,760.4 L1988.38,760.3 L1991.39,760.29 L1994.41,760.26 L1997.42,760.4 L2000.43,760.26 L2003.45,759.48 L2006.46,758.82 L2009.47,758.8 L2012.48,758.98 L2015.5,758.75 L2018.51,758.82 L2021.52,758.79 L2024.54,759.22 L2027.55,759.26 L2030.56,759.11 L2033.58,759.2 L2036.59,759.55 L2039.6,759.82 L2042.61,759.92 L2045.63,759.53 L2048.64,759.35 L2051.65,759.45 L2054.67,759.31 L2057.68,759.36 L2060.69,759.52 L2063.7,759.92 L2066.72,759.64 L2069.73,759.9 L2072.74,759.91 L2075.76,759.96 L2078.77,759.88 L2081.78,759.44 L2084.79,758.78 L2087.81,758.74 L2090.82,759.43 L2093.83,759.69 L2096.85,759.83 L2099.86,760.42 L2102.87,760.54 L2105.89,761.07 L2108.9,760.93 L2111.91,761.06 L2114.92,760.69 L2117.94,760.42 L2120.95,760.32 L2123.96,760.5 L2126.98,760.45 L2129.99,760.54 L2133,760.08 L2136.01,760.24 L2139.03,760.02 L2142.04,760.07 L2145.05,759.93 L2148.07,760.07 L2151.08,760.23 L2154.09,760.31 L2157.1,759.39 L2160.12,759.01 L2163.13,758.93 L2166.14,759.41 L2169.16,759.87 L2172.17,760.55 L2175.18,761.07 L2178.2,760.82 L2181.21,760.2 L2184.22,759.76 L2187.23,760.2 L2190.25,759.97 L2193.26,760.28 L2196.27,760.15 L2199.29,760.1 L2202.3,759.47 L2205.31,759.54 L2208.32,759.26 L2211.34,759.74 L2214.35,760.48 L2214.35,761 L850.35,761 Z" fill="url(#gA)" stroke="none"/>
<path d="M850.35,759.19 L853.36,759.19 L856.36,759.34 L859.37,759.63 L862.38,760.03 L865.38,759.88 L868.39,759.64 L871.4,759.16 L874.4,758.99 L877.41,758.78 L880.42,759.55 L883.42,760.12 L886.43,760.62 L889.44,760.66 L892.44,760.62 L895.45,760.38 L898.46,760.29 L901.46,760.26 L904.47,760.67 L907.48,760.88 L910.48,760.91 L913.49,760.7 L916.5,761.04 L919.5,760.67 L922.51,760.98 L925.52,760.69 L928.52,759.97 L931.53,760.11 L934.54,760.36 L937.54,760.58 L940.55,760.43 L943.56,760.31 L946.56,759.96 L949.57,759.92 L952.58,759.34 L955.58,759.6 L958.59,759.6 L961.6,760.01 L964.6,760.3 L967.61,760.17 L970.62,761 L973.62,761.21 L976.63,761.37 L979.64,760.87 L982.65,760.11 L985.65,760.17 L988.66,760.1 L991.67,760.26 L994.67,760.62 L997.68,760.96 L1000.69,760.76 L1003.69,760.36 L1006.7,760.05 L1009.71,760.14 L1012.71,760.2 L1015.72,760.55 L1018.73,760.18 L1021.73,760.61 L1024.74,760.82 L1027.75,760.61 L1030.75,761.03 L1033.76,760.4 L1036.77,759.63 L1039.77,758.72 L1042.78,758.82 L1045.79,759.48 L1048.79,760.57 L1051.8,760.74 L1054.81,760.36 L1057.81,759.69 L1060.82,758.96 L1063.83,758.71 L1066.83,759.23 L1069.84,760.4 L1072.85,760.67 L1075.85,761.06 L1078.86,760.77 L1081.87,760.85 L1084.87,761 L1087.88,760.57 L1090.89,760 L1093.89,759.68 L1096.9,759.49 L1099.91,759.3 L1102.91,758.96 L1105.92,758.93 L1108.93,759.06 L1111.93,759.48 L1114.94,760.29 L1117.95,760.27 L1120.95,760.7 L1123.96,760.78 L1126.97,761.12 L1129.97,761.09 L1132.98,760.55 L1135.99,759.88 L1138.99,759.96 L1142,759.47 L1145.01,759.34 L1148.01,758.94 L1151.02,758.77 L1154.03,758.96 L1157.03,759.01 L1160.04,758.59 L1163.05,758.78 L1166.05,758.62 L1169.06,758.78 L1172.07,758.71 L1175.07,758.67 L1178.08,758.97 L1181.09,759.32 L1184.09,759.81 L1187.1,759.66 L1190.11,759.64 L1193.11,760.09 L1196.12,760.15 L1199.13,759.79 L1202.13,759.5 L1205.14,759.44 L1208.15,759.53 L1211.15,760.22 L1214.16,760.72 L1217.17,761.04 L1220.17,760.84 L1223.18,760.55 L1226.19,760.34 L1229.2,760.18 L1232.2,759.81 L1235.21,759.52 L1238.22,759.4 L1241.22,759.45 L1244.23,759.92 L1247.24,760.31 L1250.24,760.61 L1253.25,761 L1256.26,760.65 L1259.26,760.91 L1262.27,761.08 L1265.28,760.58 L1268.28,760.37 L1271.29,760.22 L1274.3,760.25 L1277.3,760.28 L1280.31,760 L1283.32,759.5 L1286.32,759.76 L1289.33,760.6 L1292.34,761.1 L1295.34,760.98 L1298.35,760.37 L1301.36,760.13 L1304.36,760.15 L1307.37,760.21 L1310.38,760.61 L1313.38,760.6 L1316.39,760.67 L1319.4,760.45 L1322.4,759.77 L1325.41,759.3 L1328.42,759.12 L1331.42,759.67 L1334.43,760.18 L1337.44,760.59 L1340.44,760.51 L1343.45,759.57 L1346.46,759.24 L1349.46,758.71 L1352.47,758.97 L1355.48,759.68 L1358.48,760.37 L1361.49,760.19 L1364.5,760.21 L1367.5,760.5 L1370.51,760.56 L1373.52,760.28 L1376.52,760.16 L1379.53,759.56 L1382.54,759.69 L1385.54,759.89 L1388.55,759.64 L1391.56,759.69 L1394.56,759.37 L1397.57,759.52 L1400.58,760.07 L1403.58,760.04 L1406.59,759.64 L1409.6,759.71 L1412.6,759.64 L1415.61,759.38 L1418.62,759.65 L1421.62,759.9 L1424.63,759.64 L1427.64,759.66 L1430.64,759.37 L1433.65,759.09 L1436.66,758.64 L1439.66,759.18 L1442.67,759.83 L1445.68,760.41 L1448.68,760.68 L1451.69,761.05 L1454.7,760.94 L1457.7,761.07 L1460.71,761.32 L1463.72,760.89 L1466.72,760.97 L1469.73,760.62 L1472.74,760.27 L1475.75,759.77 L1478.75,759.38 L1481.76,759.37 L1484.77,759.38 L1487.77,758.76 L1490.78,758.73 L1493.79,758.7 L1496.79,759.45 L1499.8,759.47 L1502.81,759.64 L1505.81,759.55 L1508.82,759.49 L1511.83,759.53 L1514.83,759.48 L1517.84,759.67 L1520.85,760.24 L1523.85,760.51 L1526.86,760.27 L1529.87,760.35 L1532.87,760.91 L1535.88,760.9 L1538.89,760.52 L1541.89,760.79 L1544.9,760.6 L1547.91,760.57 L1550.91,760.26 L1553.92,759.73 L1556.93,759.34 L1559.93,759.57 L1562.94,760.16 L1565.95,761.1 L1568.95,760.97 L1571.96,761.38 L1574.97,760.95 L1577.97,760.99 L1580.98,761.22 L1583.99,761.27 L1586.99,761.16 L1590,759.84 L1592,759.53 L1594,760.25 L1596,758.45 L1598,757.85 L1600,756.51 L1602,753.87 L1604,749.68 L1606,743.34 L1608,734.2 L1610,721.68 L1612,705.41 L1614,685.39 L1616,662.19 L1618,637.01 L1620,611.66 L1622,588.38 L1624,569.54 L1626,557.27 L1628,553 L1630,557.27 L1632,569.54 L1634,588.38 L1636,611.66 L1638,637.01 L1640,662.19 L1642,685.39 L1644,705.41 L1646,721.68 L1648,734.2 L1650,743.34 L1652,749.68 L1654,753.87 L1656,756.51 L1658,758.8 L1660,758.15 L1662,759.34 L1664,760.32 L1666,760.37 L1669.01,758.97 L1672.03,759.37 L1675.04,760.39 L1678.05,760.44 L1681.06,760.67 L1684.08,760.59 L1687.09,760.14 L1690.1,760.03 L1693.12,760.24 L1696.13,759.78 L1699.14,759.35 L1702.15,759.57 L1705.17,759.85 L1708.18,760.52 L1711.19,760.8 L1714.21,761.1 L1717.22,760.8 L1720.23,760.25 L1723.25,760.25 L1726.26,760.02 L1729.27,760.58 L1732.28,761.07 L1735.3,761.34 L1738.31,761.04 L1741.32,760.35 L1744.34,760.04 L1747.35,760 L1750.36,759.6 L1753.37,759.38 L1756.39,758.86 L1759.4,759.48 L1762.41,760.03 L1765.43,760.53 L1768.44,760.58 L1771.45,760.49 L1774.46,760.34 L1777.48,760.33 L1780.49,760.21 L1783.5,759.98 L1786.52,759.2 L1789.53,759.13 L1792.54,759.77 L1795.56,760.18 L1798.57,760.58 L1801.58,760.55 L1804.59,760.27 L1807.61,759.48 L1810.62,759.45 L1813.63,759.53 L1816.65,759.94 L1819.66,759.92 L1822.67,759.93 L1825.68,759.91 L1828.7,760.07 L1831.71,760.14 L1834.72,759.94 L1837.74,759.48 L1840.75,759.14 L1843.76,759.03 L1846.77,759.12 L1849.79,759.33 L1852.8,759.54 L1855.81,759.48 L1858.83,759.21 L1861.84,759.55 L1864.85,759.27 L1867.87,759.38 L1870.88,759.13 L1873.89,759.13 L1876.9,758.78 L1879.92,758.8 L1882.93,758.78 L1885.94,758.72 L1888.96,759.12 L1891.97,759.51 L1894.98,760.24 L1897.99,760.83 L1901.01,761.11 L1904.02,760.59 L1907.03,760.14 L1910.05,760.29 L1913.06,760.2 L1916.07,760.34 L1919.08,759.88 L1922.1,760.04 L1925.11,759.97 L1928.12,759.63 L1931.14,759.44 L1934.15,759.07 L1937.16,759.47 L1940.17,759.69 L1943.19,759.84 L1946.2,760.11 L1949.21,759.65 L1952.23,759.61 L1955.24,759.31 L1958.25,759.72 L1961.27,759.76 L1964.28,759.81 L1967.29,760.08 L1970.3,760.18 L1973.32,759.78 L1976.33,760.04 L1979.34,760.15 L1982.36,760.16 L1985.37,760.4 L1988.38,760.3 L1991.39,760.29 L1994.41,760.26 L1997.42,760.4 L2000.43,760.26 L2003.45,759.48 L2006.46,758.82 L2009.47,758.8 L2012.48,758.98 L2015.5,758.75 L2018.51,758.82 L2021.52,758.79 L2024.54,759.22 L2027.55,759.26 L2030.56,759.11 L2033.58,759.2 L2036.59,759.55 L2039.6,759.82 L2042.61,759.92 L2045.63,759.53 L2048.64,759.35 L2051.65,759.45 L2054.67,759.31 L2057.68,759.36 L2060.69,759.52 L2063.7,759.92 L2066.72,759.64 L2069.73,759.9 L2072.74,759.91 L2075.76,759.96 L2078.77,759.88 L2081.78,759.44 L2084.79,758.78 L2087.81,758.74 L2090.82,759.43 L2093.83,759.69 L2096.85,759.83 L2099.86,760.42 L2102.87,760.54 L2105.89,761.07 L2108.9,760.93 L2111.91,761.06 L2114.92,760.69 L2117.94,760.42 L2120.95,760.32 L2123.96,760.5 L2126.98,760.45 L2129.99,760.54 L2133,760.08 L2136.01,760.24 L2139.03,760.02 L2142.04,760.07 L2145.05,759.93 L2148.07,760.07 L2151.08,760.23 L2154.09,760.31 L2157.1,759.39 L2160.12,759.01 L2163.13,758.93 L2166.14,759.41 L2169.16,759.87 L2172.17,760.55 L2175.18,761.07 L2178.2,760.82 L2181.21,760.2 L2184.22,759.76 L2187.23,760.2 L2190.25,759.97 L2193.26,760.28 L2196.27,760.15 L2199.29,760.1 L2202.3,759.47 L2205.31,759.54 L2208.32,759.26 L2211.34,759.74 L2214.35,760.48" fill="none" stroke="#1e1e1e" stroke-width="5" stroke-linejoin="round"/>
<path d="M749.4,876.08 L752.42,875.23 L755.44,875.23 L758.47,875.57 L761.49,875.94 L764.51,876.02 L767.53,875.84 L770.56,875.78 L773.58,875.9 L776.6,875.96 L779.62,875.61 L782.65,875.99 L785.67,876.18 L788.69,875.85 L791.71,876.35 L794.74,876.11 L797.76,876.4 L800.78,876.35 L803.8,876.33 L806.83,876.12 L809.85,876.15 L812.87,876.07 L815.89,875.75 L818.92,875.72 L821.94,875.7 L824.96,876.05 L827.98,876.22 L831.01,876.66 L834.03,876.54 L837.05,876.29 L840.07,876.45 L843.09,876.42 L846.12,876.11 L849.14,875.76 L852.16,875.79 L855.18,875.74 L858.21,876.18 L861.23,876.77 L864.25,876.73 L867.27,876.74 L870.3,876.48 L873.32,876.02 L876.34,876.33 L879.36,876.3 L882.39,876.95 L885.41,877.13 L888.43,876.9 L891.45,876.41 L894.48,876.38 L897.5,876.24 L900.52,876.32 L903.54,875.59 L906.57,875.72 L909.59,875.83 L912.61,876.04 L915.63,876.48 L918.66,876.35 L921.68,876.74 L924.7,876.49 L927.72,876.72 L930.74,876.68 L933.77,876.09 L936.79,876.07 L939.81,875.92 L942.83,875.57 L945.86,876.11 L948.88,876.75 L951.9,876.63 L954.92,876.78 L957.95,876 L960.97,875.88 L963.99,875.49 L967.01,875.87 L970.04,876.34 L973.06,876.15 L976.08,876.17 L979.1,876.26 L982.13,876.14 L985.15,875.99 L988.17,875.9 L991.19,875.59 L994.22,875.74 L997.24,875.59 L1000.26,875.79 L1003.28,875.55 L1006.31,875.93 L1009.33,875.59 L1012.35,875.79 L1015.37,875.84 L1018.39,875.69 L1021.42,875.88 L1024.44,875.59 L1027.46,875.51 L1030.48,875.65 L1033.51,875.25 L1036.53,875.68 L1039.55,875.5 L1042.57,875.6 L1045.6,876.36 L1048.62,876.6 L1051.64,877.08 L1054.66,876.73 L1057.69,876.39 L1060.71,876.44 L1063.73,876.26 L1066.75,876.11 L1069.78,876.38 L1072.8,876.02 L1075.82,876.3 L1078.84,875.78 L1081.87,875.77 L1084.89,875.92 L1087.91,875.88 L1090.93,876.14 L1093.96,876.1 L1096.98,875.91 L1100,876.5 L1114.8,877 L1130,874.5 L1144.4,872.4 L1155,868 L1162.8,865 L1175.8,861.3 L1179.5,833.6 L1185.5,770.8 L1191,778 L1192.6,747.8 L1196.1,643.5 L1199.6,539 L1202.8,462 L1205,430 L1206.8,414 L1208.6,430 L1210.8,480 L1213.5,574 L1215.2,685 L1219.5,690 L1223.8,759.7 L1227.5,848.4 L1233.1,787.4 L1238.6,833.6 L1242.3,859.5 L1250,862 L1262,860 L1277.4,865 L1299.6,867 L1315,871 L1335,876 L1338.01,876.24 L1341.01,876.17 L1344.02,876.25 L1347.02,876.46 L1350.03,876.03 L1353.03,875.89 L1356.04,875.9 L1359.04,875.52 L1362.05,875.69 L1365.05,876.22 L1368.06,876.39 L1371.06,876.47 L1374.07,876.44 L1377.08,876.16 L1380.08,875.8 L1383.09,875.98 L1386.09,875.99 L1389.1,876.58 L1392.1,876.25 L1395.11,876.07 L1398.11,876.07 L1401.12,875.96 L1404.12,875.73 L1407.13,875.95 L1410.14,876.23 L1413.14,876.77 L1416.15,876.59 L1419.15,876.59 L1422.16,876.34 L1425.16,876.43 L1428.17,876.34 L1431.17,876.94 L1434.18,876.73 L1437.18,876.91 L1440.19,876.6 L1443.19,876.21 L1446.2,876.4 L1449.21,876.17 L1452.21,876.01 L1455.22,875.26 L1458.22,875.38 L1461.23,875.4 L1464.23,875.61 L1467.24,875.8 L1470.24,875.56 L1473.25,875.54 L1476.25,875.4 L1479.26,875.81 L1482.26,875.86 L1485.27,875.92 L1488.28,876.75 L1491.28,876.69 L1494.29,876.81 L1497.29,876.64 L1500.3,876.51 L1503.3,876.45 L1506.31,875.99 L1509.31,875.66 L1512.32,875.62 L1515.32,875.8 L1518.33,876.14 L1521.34,876.31 L1524.34,876.52 L1527.35,876.63 L1530.35,876.4 L1533.36,876.19 L1536.36,876.54 L1539.37,876.22 L1542.37,876.61 L1545.38,876.21 L1548.38,876.23 L1551.39,876.22 L1554.39,876.07 L1557.4,875.69 L1560.41,876.18 L1563.41,876.26 L1566.42,876.48 L1569.42,876.72 L1572.43,876.85 L1575.43,876.96 L1578.44,877.17 L1581.44,876.99 L1584.45,876.61 L1587.45,876.4 L1590.46,876.26 L1593.46,876.17 L1596.47,876.01 L1599.48,875.94 L1602.48,875.9 L1605.49,876.42 L1608.49,876.18 L1611.5,876.18 L1614.5,876.5 L1617.51,875.84 L1620.51,875.4 L1623.52,875.26 L1626.52,875.55 L1629.53,875.46 L1632.54,875.45 L1635.54,875.22 L1638.55,875.91 L1641.55,876.31 L1644.56,876.78 L1647.56,876.84 L1650.57,876.49 L1653.57,876.95 L1656.58,877 L1659.58,876.63 L1662.59,876.75 L1665.59,876.75 L1668.6,877.01 L1671.61,876.45 L1674.61,875.72 L1677.62,875.52 L1680.62,875.43 L1683.63,875.76 L1686.63,876.14 L1689.64,876.29 L1692.64,876.41 L1695.65,876.56 L1698.65,876.42 L1701.66,876.49 L1704.66,876.39 L1707.67,875.86 L1710.68,875.67 L1713.68,875.98 L1716.69,876.66 L1719.69,876.99 L1722.7,876.96 L1725.7,876.52 L1728.71,875.99 L1731.71,875.31 L1734.72,875.47 L1737.72,875.73 L1740.73,876.54 L1743.74,876.36 L1746.74,876.44 L1749.75,876.44 L1752.75,876.61 L1755.76,877.01 L1758.76,876.5 L1761.77,876.7 L1764.77,876.67 L1767.78,876.52 L1770.78,876.7 L1773.79,876.65 L1776.79,876.61 L1779.8,876.97 L1782.81,876.66 L1785.81,876.65 L1788.82,876.79 L1791.82,876.53 L1794.83,876.69 L1797.83,876.35 L1800.84,876.67 L1803.84,876.77 L1806.85,876.76 L1809.85,876.67 L1812.86,876.52 L1815.86,876.46 L1818.87,875.79 L1821.88,875.73 L1824.88,876.09 L1827.89,876.52 L1830.89,877.09 L1833.9,876.77 L1836.9,876.78 L1839.91,876.18 L1842.91,876.22 L1845.92,876.32 L1848.92,876.29 L1851.93,876.21 L1854.94,876.04 L1857.94,875.89 L1860.95,876.15 L1863.95,876.01 L1866.96,875.83 L1869.96,876.22 L1872.97,876.67 L1875.97,876.45 L1878.98,876.56 L1881.98,876.65 L1884.99,876.23 L1887.99,876.22 L1891,876.22 L1894.01,876 L1897.01,875.48 L1900.02,875.51 L1903.02,875.53 L1906.03,875.6 L1909.03,875.49 L1912.04,875.43 L1915.04,875.82 L1918.05,875.7 L1921.05,875.82 L1924.06,875.35 L1927.06,875.45 L1930.07,875.73 L1933.08,875.73 L1936.08,876.05 L1939.09,876.41 L1942.09,876.53 L1945.1,876.52 L1948.1,876.5 L1951.11,876.23 L1954.11,876.58 L1957.12,876.4 L1960.12,876.12 L1963.13,876.09 L1966.14,875.85 L1969.14,876.13 L1972.15,876.07 L1975.15,876.34 L1978.16,876.21 L1981.16,876.49 L1984.17,876.73 L1987.17,876.47 L1990.18,876.54 L1993.18,876.38 L1996.19,876.2 L1999.19,876.29 L2002.2,876.4 L2005.21,876.57 L2008.21,876.46 L2011.22,876.52 L2014.22,876.08 L2017.23,876.1 L2020.23,876.25 L2023.24,876.39 L2026.24,876.45 L2029.25,876.67 L2032.25,876.7 L2035.26,876.37 L2038.26,876.28 L2041.27,875.97 L2044.28,876.4 L2047.28,876.81 L2050.29,876.88 L2053.29,877.17 L2056.3,876.45 L2059.3,876.38 L2062.31,876.02 L2065.31,876.47 L2068.32,876.46 L2071.32,876.45 L2074.33,876.73 L2077.34,876.73 L2080.34,876.47 L2083.35,876.42 L2086.35,876.37 L2089.36,876.46 L2092.36,876.92 L2095.37,876.65 L2098.37,876.7 L2101.38,876.79 L2104.38,876.37 L2107.39,876.46 L2110.39,876.44 L2113.4,876.78 L2113.4,877.2 L749.4,877.2 Z" fill="url(#gT)" stroke="none"/>
<path d="M749.4,876.08 L752.42,875.23 L755.44,875.23 L758.47,875.57 L761.49,875.94 L764.51,876.02 L767.53,875.84 L770.56,875.78 L773.58,875.9 L776.6,875.96 L779.62,875.61 L782.65,875.99 L785.67,876.18 L788.69,875.85 L791.71,876.35 L794.74,876.11 L797.76,876.4 L800.78,876.35 L803.8,876.33 L806.83,876.12 L809.85,876.15 L812.87,876.07 L815.89,875.75 L818.92,875.72 L821.94,875.7 L824.96,876.05 L827.98,876.22 L831.01,876.66 L834.03,876.54 L837.05,876.29 L840.07,876.45 L843.09,876.42 L846.12,876.11 L849.14,875.76 L852.16,875.79 L855.18,875.74 L858.21,876.18 L861.23,876.77 L864.25,876.73 L867.27,876.74 L870.3,876.48 L873.32,876.02 L876.34,876.33 L879.36,876.3 L882.39,876.95 L885.41,877.13 L888.43,876.9 L891.45,876.41 L894.48,876.38 L897.5,876.24 L900.52,876.32 L903.54,875.59 L906.57,875.72 L909.59,875.83 L912.61,876.04 L915.63,876.48 L918.66,876.35 L921.68,876.74 L924.7,876.49 L927.72,876.72 L930.74,876.68 L933.77,876.09 L936.79,876.07 L939.81,875.92 L942.83,875.57 L945.86,876.11 L948.88,876.75 L951.9,876.63 L954.92,876.78 L957.95,876 L960.97,875.88 L963.99,875.49 L967.01,875.87 L970.04,876.34 L973.06,876.15 L976.08,876.17 L979.1,876.26 L982.13,876.14 L985.15,875.99 L988.17,875.9 L991.19,875.59 L994.22,875.74 L997.24,875.59 L1000.26,875.79 L1003.28,875.55 L1006.31,875.93 L1009.33,875.59 L1012.35,875.79 L1015.37,875.84 L1018.39,875.69 L1021.42,875.88 L1024.44,875.59 L1027.46,875.51 L1030.48,875.65 L1033.51,875.25 L1036.53,875.68 L1039.55,875.5 L1042.57,875.6 L1045.6,876.36 L1048.62,876.6 L1051.64,877.08 L1054.66,876.73 L1057.69,876.39 L1060.71,876.44 L1063.73,876.26 L1066.75,876.11 L1069.78,876.38 L1072.8,876.02 L1075.82,876.3 L1078.84,875.78 L1081.87,875.77 L1084.89,875.92 L1087.91,875.88 L1090.93,876.14 L1093.96,876.1 L1096.98,875.91 L1100,876.5 L1114.8,877 L1130,874.5 L1144.4,872.4 L1155,868 L1162.8,865 L1175.8,861.3 L1179.5,833.6 L1185.5,770.8 L1191,778 L1192.6,747.8 L1196.1,643.5 L1199.6,539 L1202.8,462 L1205,430 L1206.8,414 L1208.6,430 L1210.8,480 L1213.5,574 L1215.2,685 L1219.5,690 L1223.8,759.7 L1227.5,848.4 L1233.1,787.4 L1238.6,833.6 L1242.3,859.5 L1250,862 L1262,860 L1277.4,865 L1299.6,867 L1315,871 L1335,876 L1338.01,876.24 L1341.01,876.17 L1344.02,876.25 L1347.02,876.46 L1350.03,876.03 L1353.03,875.89 L1356.04,875.9 L1359.04,875.52 L1362.05,875.69 L1365.05,876.22 L1368.06,876.39 L1371.06,876.47 L1374.07,876.44 L1377.08,876.16 L1380.08,875.8 L1383.09,875.98 L1386.09,875.99 L1389.1,876.58 L1392.1,876.25 L1395.11,876.07 L1398.11,876.07 L1401.12,875.96 L1404.12,875.73 L1407.13,875.95 L1410.14,876.23 L1413.14,876.77 L1416.15,876.59 L1419.15,876.59 L1422.16,876.34 L1425.16,876.43 L1428.17,876.34 L1431.17,876.94 L1434.18,876.73 L1437.18,876.91 L1440.19,876.6 L1443.19,876.21 L1446.2,876.4 L1449.21,876.17 L1452.21,876.01 L1455.22,875.26 L1458.22,875.38 L1461.23,875.4 L1464.23,875.61 L1467.24,875.8 L1470.24,875.56 L1473.25,875.54 L1476.25,875.4 L1479.26,875.81 L1482.26,875.86 L1485.27,875.92 L1488.28,876.75 L1491.28,876.69 L1494.29,876.81 L1497.29,876.64 L1500.3,876.51 L1503.3,876.45 L1506.31,875.99 L1509.31,875.66 L1512.32,875.62 L1515.32,875.8 L1518.33,876.14 L1521.34,876.31 L1524.34,876.52 L1527.35,876.63 L1530.35,876.4 L1533.36,876.19 L1536.36,876.54 L1539.37,876.22 L1542.37,876.61 L1545.38,876.21 L1548.38,876.23 L1551.39,876.22 L1554.39,876.07 L1557.4,875.69 L1560.41,876.18 L1563.41,876.26 L1566.42,876.48 L1569.42,876.72 L1572.43,876.85 L1575.43,876.96 L1578.44,877.17 L1581.44,876.99 L1584.45,876.61 L1587.45,876.4 L1590.46,876.26 L1593.46,876.17 L1596.47,876.01 L1599.48,875.94 L1602.48,875.9 L1605.49,876.42 L1608.49,876.18 L1611.5,876.18 L1614.5,876.5 L1617.51,875.84 L1620.51,875.4 L1623.52,875.26 L1626.52,875.55 L1629.53,875.46 L1632.54,875.45 L1635.54,875.22 L1638.55,875.91 L1641.55,876.31 L1644.56,876.78 L1647.56,876.84 L1650.57,876.49 L1653.57,876.95 L1656.58,877 L1659.58,876.63 L1662.59,876.75 L1665.59,876.75 L1668.6,877.01 L1671.61,876.45 L1674.61,875.72 L1677.62,875.52 L1680.62,875.43 L1683.63,875.76 L1686.63,876.14 L1689.64,876.29 L1692.64,876.41 L1695.65,876.56 L1698.65,876.42 L1701.66,876.49 L1704.66,876.39 L1707.67,875.86 L1710.68,875.67 L1713.68,875.98 L1716.69,876.66 L1719.69,876.99 L1722.7,876.96 L1725.7,876.52 L1728.71,875.99 L1731.71,875.31 L1734.72,875.47 L1737.72,875.73 L1740.73,876.54 L1743.74,876.36 L1746.74,876.44 L1749.75,876.44 L1752.75,876.61 L1755.76,877.01 L1758.76,876.5 L1761.77,876.7 L1764.77,876.67 L1767.78,876.52 L1770.78,876.7 L1773.79,876.65 L1776.79,876.61 L1779.8,876.97 L1782.81,876.66 L1785.81,876.65 L1788.82,876.79 L1791.82,876.53 L1794.83,876.69 L1797.83,876.35 L1800.84,876.67 L1803.84,876.77 L1806.85,876.76 L1809.85,876.67 L1812.86,876.52 L1815.86,876.46 L1818.87,875.79 L1821.88,875.73 L1824.88,876.09 L1827.89,876.52 L1830.89,877.09 L1833.9,876.77 L1836.9,876.78 L1839.91,876.18 L1842.91,876.22 L1845.92,876.32 L1848.92,876.29 L1851.93,876.21 L1854.94,876.04 L1857.94,875.89 L1860.95,876.15 L1863.95,876.01 L1866.96,875.83 L1869.96,876.22 L1872.97,876.67 L1875.97,876.45 L1878.98,876.56 L1881.98,876.65 L1884.99,876.23 L1887.99,876.22 L1891,876.22 L1894.01,876 L1897.01,875.48 L1900.02,875.51 L1903.02,875.53 L1906.03,875.6 L1909.03,875.49 L1912.04,875.43 L1915.04,875.82 L1918.05,875.7 L1921.05,875.82 L1924.06,875.35 L1927.06,875.45 L1930.07,875.73 L1933.08,875.73 L1936.08,876.05 L1939.09,876.41 L1942.09,876.53 L1945.1,876.52 L1948.1,876.5 L1951.11,876.23 L1954.11,876.58 L1957.12,876.4 L1960.12,876.12 L1963.13,876.09 L1966.14,875.85 L1969.14,876.13 L1972.15,876.07 L1975.15,876.34 L1978.16,876.21 L1981.16,876.49 L1984.17,876.73 L1987.17,876.47 L1990.18,876.54 L1993.18,876.38 L1996.19,876.2 L1999.19,876.29 L2002.2,876.4 L2005.21,876.57 L2008.21,876.46 L2011.22,876.52 L2014.22,876.08 L2017.23,876.1 L2020.23,876.25 L2023.24,876.39 L2026.24,876.45 L2029.25,876.67 L2032.25,876.7 L2035.26,876.37 L2038.26,876.28 L2041.27,875.97 L2044.28,876.4 L2047.28,876.81 L2050.29,876.88 L2053.29,877.17 L2056.3,876.45 L2059.3,876.38 L2062.31,876.02 L2065.31,876.47 L2068.32,876.46 L2071.32,876.45 L2074.33,876.73 L2077.34,876.73 L2080.34,876.47 L2083.35,876.42 L2086.35,876.37 L2089.36,876.46 L2092.36,876.92 L2095.37,876.65 L2098.37,876.7 L2101.38,876.79 L2104.38,876.37 L2107.39,876.46 L2110.39,876.44 L2113.4,876.78" fill="none" stroke="#444444" stroke-width="4.3" stroke-linejoin="round"/>
<path d="M749.4,875.73 L752.41,874.78 L755.42,874.96 L758.43,875.32 L761.44,875.9 L764.45,875.95 L767.46,875.84 L770.47,875.64 L773.48,875.72 L776.5,875.78 L779.51,875.68 L782.52,875.71 L785.53,876.13 L788.54,875.96 L791.55,876.02 L794.56,876.15 L797.57,876.55 L800.58,876.54 L803.59,876.37 L806.6,876.21 L809.61,876.22 L812.62,875.84 L815.63,875.86 L818.64,875.32 L821.65,875.55 L824.66,876.12 L827.67,876.69 L830.69,876.77 L833.7,876.61 L836.71,876.56 L839.72,876.19 L842.73,876.5 L845.74,876.06 L848.75,876.01 L851.76,875.52 L854.77,875.69 L857.78,876.21 L860.79,876.96 L863.8,877.12 L866.81,876.84 L869.82,876.78 L872.83,876.2 L875.84,876.13 L878.85,876.48 L881.87,877.03 L884.88,877.3 L887.89,877.33 L890.9,876.98 L893.91,876.44 L896.92,876.57 L899.93,876.31 L902.94,875.45 L905.95,875.45 L908.96,875.46 L911.97,875.82 L914.98,876.09 L917.99,876.79 L921,876.7 L924.01,876.39 L927.02,876.38 L930.03,876.84 L933.04,876.46 L936.06,875.79 L939.07,875.34 L942.08,875.35 L945.09,875.88 L948.1,876.81 L951.11,876.97 L954.12,876.71 L957.13,876.46 L960.14,875.77 L963.15,875.25 L966.16,875.81 L969.17,876.05 L972.18,876.44 L975.19,876.42 L978.2,876.5 L981.21,876.4 L984.22,876.4 L987.23,875.95 L990.25,875.8 L993.26,875.32 L996.27,875.3 L999.28,875.24 L1002.29,875.64 L1005.3,875.61 L1008.31,875.48 L1011.32,875.46 L1014.33,875.4 L1017.34,875.57 L1020.35,875.29 L1023.36,875.33 L1026.37,875 L1029.38,875.13 L1032.39,875.12 L1035.4,875.12 L1038.41,875.27 L1041.43,874.96 L1044.44,876.05 L1047.45,876.69 L1050.46,877.15 L1053.47,877.1 L1056.48,876.88 L1059.49,876.35 L1062.5,876.3 L1065.51,876.55 L1068.52,876.08 L1071.53,876.34 L1074.54,876.28 L1077.55,875.69 L1080.56,875.64 L1083.57,875.52 L1086.58,875.76 L1089.59,875.77 L1092.6,876.37 L1095.62,876.2 L1098.63,876.01 L1101.64,875.95 L1104.65,875.33 L1107.66,875.7 L1110.67,875.86 L1113.68,875.95 L1116.69,876.32 L1119.7,876.08 L1122.71,876.15 L1125.72,876.2 L1128.73,876.33 L1131.74,876.19 L1134.75,876.51 L1137.76,876.64 L1140.77,876.7 L1143.78,876.79 L1146.8,876.47 L1149.81,876.72 L1152.82,876.24 L1155.83,875.7 L1158.84,875.08 L1161.85,875.09 L1164.86,875.33 L1167.87,875.19 L1170.88,875.27 L1173.89,875.07 L1176.9,875.21 L1179.91,875.37 L1182.92,875.57 L1185.93,875.7 L1188.94,875.99 L1191.95,875.8 L1194.96,876.15 L1197.97,876.08 L1200.99,875.69 L1204,875.32 L1207.01,875.47 L1210.02,875.46 L1213.03,875.69 L1216.04,876.1 L1219.05,876.01 L1222.06,876.17 L1225.07,876.34 L1228.08,876.37 L1231.09,875.86 L1234.1,875.36 L1237.11,875.08 L1240.12,875.25 L1243.13,875.67 L1246.14,876.2 L1249.15,876.14 L1252.17,876.56 L1255.18,876.83 L1258.19,877.27 L1261.2,876.97 L1264.21,876.88 L1267.22,876.64 L1270.23,876.92 L1273.24,876.96 L1276.25,876.73 L1279.26,876.5 L1282.27,876.69 L1285.28,876.61 L1288.29,876.39 L1291.3,876.15 L1294.31,876.17 L1297.32,876.28 L1300.33,876.29 L1303.34,876.38 L1306.36,876.3 L1309.37,875.89 L1312.38,874.92 L1315.39,875.03 L1318.4,875.27 L1321.41,876.18 L1324.42,877.15 L1327.43,877.06 L1330.44,876.93 L1333.45,876.33 L1336.46,875.93 L1339.47,876.13 L1342.48,876.28 L1345.49,876.5 L1348.5,876.52 L1351.51,876.09 L1354.52,875.75 L1357.53,875.38 L1360.55,875.71 L1363.56,875.92 L1366.57,876.41 L1369.58,876.58 L1372.59,876.42 L1375.6,876.37 L1378.61,875.73 L1381.62,876.07 L1384.63,875.82 L1387.64,876.5 L1390.65,876.32 L1393.66,876.21 L1396.67,876.22 L1399.68,875.58 L1402.69,875.65 L1405.7,875.61 L1408.71,876.1 L1411.73,876.96 L1414.74,877.03 L1417.75,876.94 L1420.76,876.64 L1423.77,876.17 L1426.78,876.51 L1429.79,876.89 L1432.8,877.15 L1435.81,877.55 L1438.82,877.02 L1441.83,876.95 L1444.84,876.47 L1447.85,876 L1450.86,875.62 L1453.87,875.38 L1456.88,875.11 L1459.89,874.77 L1462.9,875.06 L1465.92,875.46 L1468.93,875.25 L1471.94,875.59 L1474.95,875.37 L1477.96,875.14 L1480.97,875.34 L1483.98,875.9 L1486.99,876.49 L1490,874.98 L1492,875.57 L1494,873.71 L1496,872.1 L1498,869.05 L1500,864.34 L1502,857.48 L1504,848.06 L1506,835.94 L1508,821.39 L1510,805.16 L1512,788.58 L1514,773.32 L1516,761.23 L1518,753.91 L1520,752.39 L1522,756.89 L1524,766.77 L1526,780.67 L1528,796.82 L1530,813.41 L1532,828.93 L1534,842.33 L1536,853.1 L1538,861.21 L1540,866.94 L1542,870.75 L1544,873.15 L1546,874.84 L1548,875.61 L1550,875.65 L1553.01,875.98 L1556.03,875.81 L1559.04,875.85 L1562.05,876.21 L1565.06,876.56 L1568.08,876.62 L1571.09,877.17 L1574.1,877.2 L1577.12,877.4 L1580.13,877.13 L1583.14,876.92 L1586.15,876.63 L1589.17,876.29 L1592.18,876.16 L1595.19,875.98 L1598.21,876.01 L1601.22,876.23 L1604.23,876.09 L1607.24,876.44 L1610.26,876.55 L1613.27,876.65 L1616.28,876.18 L1619.3,875.37 L1622.31,874.93 L1625.32,875.03 L1628.33,875.03 L1631.35,875.04 L1634.36,875.15 L1637.37,875.62 L1640.39,875.96 L1643.4,876.92 L1646.41,876.98 L1649.42,877.08 L1652.44,877.02 L1655.45,876.92 L1658.46,877.24 L1661.47,877.32 L1664.49,877.35 L1667.5,877.46 L1670.51,876.6 L1673.53,875.52 L1676.54,875.08 L1679.55,875.24 L1682.56,875.47 L1685.58,876.37 L1688.59,876.76 L1691.6,876.46 L1694.62,876.78 L1697.63,876.93 L1700.64,876.83 L1703.65,876.36 L1706.67,875.84 L1709.68,875.72 L1712.69,875.85 L1715.71,876.33 L1718.72,876.88 L1721.73,877.56 L1724.74,877.12 L1727.76,875.88 L1730.77,875.21 L1733.78,875.22 L1736.8,875.7 L1739.81,876.25 L1742.82,876.69 L1745.83,876.8 L1748.85,876.71 L1751.86,876.83 L1754.87,876.87 L1757.89,877.1 L1760.9,876.87 L1763.91,876.92 L1766.92,876.84 L1769.94,876.92 L1772.95,876.77 L1775.96,876.74 L1778.98,877.23 L1781.99,876.95 L1785,876.85 L1788.01,877.13 L1791.03,877.14 L1794.04,876.68 L1797.05,876.79 L1800.07,876.65 L1803.08,876.81 L1806.09,876.65 L1809.1,876.71 L1812.12,877.07 L1815.13,876.59 L1818.14,875.97 L1821.16,875.86 L1824.17,876.01 L1827.18,876.84 L1830.19,877.11 L1833.21,877.39 L1836.22,876.98 L1839.23,876.59 L1842.24,876.44 L1845.26,876.07 L1848.27,875.92 L1851.28,875.96 L1854.3,875.94 L1857.31,875.82 L1860.32,875.68 L1863.33,875.85 L1866.35,876.04 L1869.36,876.17 L1872.37,876.83 L1875.39,877.03 L1878.4,876.55 L1881.41,876.66 L1884.42,876.4 L1887.44,876.21 L1890.45,876.38 L1893.46,875.61 L1896.48,875.46 L1899.49,875.46 L1902.5,875.59 L1905.51,875.41 L1908.53,875.25 L1911.54,875.28 L1914.55,875.14 L1917.57,875.55 L1920.58,875.56 L1923.59,875.14 L1926.6,874.98 L1929.62,875.05 L1932.63,875.22 L1935.64,876.11 L1938.66,876.84 L1941.67,877.14 L1944.68,876.67 L1947.69,876.88 L1950.71,876.7 L1953.72,876.62 L1956.73,876.62 L1959.75,875.9 L1962.76,875.77 L1965.77,876.08 L1968.78,876.23 L1971.8,876.17 L1974.81,876 L1977.82,876.28 L1980.84,876.66 L1983.85,876.58 L1986.86,876.72 L1989.87,876.45 L1992.89,876.03 L1995.9,876 L1998.91,875.9 L2001.93,876.19 L2004.94,876.43 L2007.95,876.81 L2010.96,876.35 L2013.98,876.44 L2016.99,875.97 L2020,875.88 L2023.01,876.57 L2026.03,876.58 L2029.04,877.14 L2032.05,877.03 L2035.07,876.72 L2038.08,876.02 L2041.09,876.06 L2044.1,876.15 L2047.12,877.07 L2050.13,877.43 L2053.14,877.34 L2056.16,876.9 L2059.17,876.37 L2062.18,876.34 L2065.19,876.25 L2068.21,876.61 L2071.22,876.66 L2074.23,876.79 L2077.25,876.59 L2080.26,876.69 L2083.27,876.44 L2086.28,876.25 L2089.3,876.82 L2092.31,876.79 L2095.32,877.01 L2098.34,876.83 L2101.35,876.75 L2104.36,876.89 L2107.37,876.6 L2110.39,876.71 L2113.4,877.19 L2113.4,877.2 L749.4,877.2 Z" fill="url(#gT2)" stroke="none"/>
<path d="M749.4,875.73 L752.41,874.78 L755.42,874.96 L758.43,875.32 L761.44,875.9 L764.45,875.95 L767.46,875.84 L770.47,875.64 L773.48,875.72 L776.5,875.78 L779.51,875.68 L782.52,875.71 L785.53,876.13 L788.54,875.96 L791.55,876.02 L794.56,876.15 L797.57,876.55 L800.58,876.54 L803.59,876.37 L806.6,876.21 L809.61,876.22 L812.62,875.84 L815.63,875.86 L818.64,875.32 L821.65,875.55 L824.66,876.12 L827.67,876.69 L830.69,876.77 L833.7,876.61 L836.71,876.56 L839.72,876.19 L842.73,876.5 L845.74,876.06 L848.75,876.01 L851.76,875.52 L854.77,875.69 L857.78,876.21 L860.79,876.96 L863.8,877.12 L866.81,876.84 L869.82,876.78 L872.83,876.2 L875.84,876.13 L878.85,876.48 L881.87,877.03 L884.88,877.3 L887.89,877.33 L890.9,876.98 L893.91,876.44 L896.92,876.57 L899.93,876.31 L902.94,875.45 L905.95,875.45 L908.96,875.46 L911.97,875.82 L914.98,876.09 L917.99,876.79 L921,876.7 L924.01,876.39 L927.02,876.38 L930.03,876.84 L933.04,876.46 L936.06,875.79 L939.07,875.34 L942.08,875.35 L945.09,875.88 L948.1,876.81 L951.11,876.97 L954.12,876.71 L957.13,876.46 L960.14,875.77 L963.15,875.25 L966.16,875.81 L969.17,876.05 L972.18,876.44 L975.19,876.42 L978.2,876.5 L981.21,876.4 L984.22,876.4 L987.23,875.95 L990.25,875.8 L993.26,875.32 L996.27,875.3 L999.28,875.24 L1002.29,875.64 L1005.3,875.61 L1008.31,875.48 L1011.32,875.46 L1014.33,875.4 L1017.34,875.57 L1020.35,875.29 L1023.36,875.33 L1026.37,875 L1029.38,875.13 L1032.39,875.12 L1035.4,875.12 L1038.41,875.27 L1041.43,874.96 L1044.44,876.05 L1047.45,876.69 L1050.46,877.15 L1053.47,877.1 L1056.48,876.88 L1059.49,876.35 L1062.5,876.3 L1065.51,876.55 L1068.52,876.08 L1071.53,876.34 L1074.54,876.28 L1077.55,875.69 L1080.56,875.64 L1083.57,875.52 L1086.58,875.76 L1089.59,875.77 L1092.6,876.37 L1095.62,876.2 L1098.63,876.01 L1101.64,875.95 L1104.65,875.33 L1107.66,875.7 L1110.67,875.86 L1113.68,875.95 L1116.69,876.32 L1119.7,876.08 L1122.71,876.15 L1125.72,876.2 L1128.73,876.33 L1131.74,876.19 L1134.75,876.51 L1137.76,876.64 L1140.77,876.7 L1143.78,876.79 L1146.8,876.47 L1149.81,876.72 L1152.82,876.24 L1155.83,875.7 L1158.84,875.08 L1161.85,875.09 L1164.86,875.33 L1167.87,875.19 L1170.88,875.27 L1173.89,875.07 L1176.9,875.21 L1179.91,875.37 L1182.92,875.57 L1185.93,875.7 L1188.94,875.99 L1191.95,875.8 L1194.96,876.15 L1197.97,876.08 L1200.99,875.69 L1204,875.32 L1207.01,875.47 L1210.02,875.46 L1213.03,875.69 L1216.04,876.1 L1219.05,876.01 L1222.06,876.17 L1225.07,876.34 L1228.08,876.37 L1231.09,875.86 L1234.1,875.36 L1237.11,875.08 L1240.12,875.25 L1243.13,875.67 L1246.14,876.2 L1249.15,876.14 L1252.17,876.56 L1255.18,876.83 L1258.19,877.27 L1261.2,876.97 L1264.21,876.88 L1267.22,876.64 L1270.23,876.92 L1273.24,876.96 L1276.25,876.73 L1279.26,876.5 L1282.27,876.69 L1285.28,876.61 L1288.29,876.39 L1291.3,876.15 L1294.31,876.17 L1297.32,876.28 L1300.33,876.29 L1303.34,876.38 L1306.36,876.3 L1309.37,875.89 L1312.38,874.92 L1315.39,875.03 L1318.4,875.27 L1321.41,876.18 L1324.42,877.15 L1327.43,877.06 L1330.44,876.93 L1333.45,876.33 L1336.46,875.93 L1339.47,876.13 L1342.48,876.28 L1345.49,876.5 L1348.5,876.52 L1351.51,876.09 L1354.52,875.75 L1357.53,875.38 L1360.55,875.71 L1363.56,875.92 L1366.57,876.41 L1369.58,876.58 L1372.59,876.42 L1375.6,876.37 L1378.61,875.73 L1381.62,876.07 L1384.63,875.82 L1387.64,876.5 L1390.65,876.32 L1393.66,876.21 L1396.67,876.22 L1399.68,875.58 L1402.69,875.65 L1405.7,875.61 L1408.71,876.1 L1411.73,876.96 L1414.74,877.03 L1417.75,876.94 L1420.76,876.64 L1423.77,876.17 L1426.78,876.51 L1429.79,876.89 L1432.8,877.15 L1435.81,877.55 L1438.82,877.02 L1441.83,876.95 L1444.84,876.47 L1447.85,876 L1450.86,875.62 L1453.87,875.38 L1456.88,875.11 L1459.89,874.77 L1462.9,875.06 L1465.92,875.46 L1468.93,875.25 L1471.94,875.59 L1474.95,875.37 L1477.96,875.14 L1480.97,875.34 L1483.98,875.9 L1486.99,876.49 L1490,874.98 L1492,875.57 L1494,873.71 L1496,872.1 L1498,869.05 L1500,864.34 L1502,857.48 L1504,848.06 L1506,835.94 L1508,821.39 L1510,805.16 L1512,788.58 L1514,773.32 L1516,761.23 L1518,753.91 L1520,752.39 L1522,756.89 L1524,766.77 L1526,780.67 L1528,796.82 L1530,813.41 L1532,828.93 L1534,842.33 L1536,853.1 L1538,861.21 L1540,866.94 L1542,870.75 L1544,873.15 L1546,874.84 L1548,875.61 L1550,875.65 L1553.01,875.98 L1556.03,875.81 L1559.04,875.85 L1562.05,876.21 L1565.06,876.56 L1568.08,876.62 L1571.09,877.17 L1574.1,877.2 L1577.12,877.4 L1580.13,877.13 L1583.14,876.92 L1586.15,876.63 L1589.17,876.29 L1592.18,876.16 L1595.19,875.98 L1598.21,876.01 L1601.22,876.23 L1604.23,876.09 L1607.24,876.44 L1610.26,876.55 L1613.27,876.65 L1616.28,876.18 L1619.3,875.37 L1622.31,874.93 L1625.32,875.03 L1628.33,875.03 L1631.35,875.04 L1634.36,875.15 L1637.37,875.62 L1640.39,875.96 L1643.4,876.92 L1646.41,876.98 L1649.42,877.08 L1652.44,877.02 L1655.45,876.92 L1658.46,877.24 L1661.47,877.32 L1664.49,877.35 L1667.5,877.46 L1670.51,876.6 L1673.53,875.52 L1676.54,875.08 L1679.55,875.24 L1682.56,875.47 L1685.58,876.37 L1688.59,876.76 L1691.6,876.46 L1694.62,876.78 L1697.63,876.93 L1700.64,876.83 L1703.65,876.36 L1706.67,875.84 L1709.68,875.72 L1712.69,875.85 L1715.71,876.33 L1718.72,876.88 L1721.73,877.56 L1724.74,877.12 L1727.76,875.88 L1730.77,875.21 L1733.78,875.22 L1736.8,875.7 L1739.81,876.25 L1742.82,876.69 L1745.83,876.8 L1748.85,876.71 L1751.86,876.83 L1754.87,876.87 L1757.89,877.1 L1760.9,876.87 L1763.91,876.92 L1766.92,876.84 L1769.94,876.92 L1772.95,876.77 L1775.96,876.74 L1778.98,877.23 L1781.99,876.95 L1785,876.85 L1788.01,877.13 L1791.03,877.14 L1794.04,876.68 L1797.05,876.79 L1800.07,876.65 L1803.08,876.81 L1806.09,876.65 L1809.1,876.71 L1812.12,877.07 L1815.13,876.59 L1818.14,875.97 L1821.16,875.86 L1824.17,876.01 L1827.18,876.84 L1830.19,877.11 L1833.21,877.39 L1836.22,876.98 L1839.23,876.59 L1842.24,876.44 L1845.26,876.07 L1848.27,875.92 L1851.28,875.96 L1854.3,875.94 L1857.31,875.82 L1860.32,875.68 L1863.33,875.85 L1866.35,876.04 L1869.36,876.17 L1872.37,876.83 L1875.39,877.03 L1878.4,876.55 L1881.41,876.66 L1884.42,876.4 L1887.44,876.21 L1890.45,876.38 L1893.46,875.61 L1896.48,875.46 L1899.49,875.46 L1902.5,875.59 L1905.51,875.41 L1908.53,875.25 L1911.54,875.28 L1914.55,875.14 L1917.57,875.55 L1920.58,875.56 L1923.59,875.14 L1926.6,874.98 L1929.62,875.05 L1932.63,875.22 L1935.64,876.11 L1938.66,876.84 L1941.67,877.14 L1944.68,876.67 L1947.69,876.88 L1950.71,876.7 L1953.72,876.62 L1956.73,876.62 L1959.75,875.9 L1962.76,875.77 L1965.77,876.08 L1968.78,876.23 L1971.8,876.17 L1974.81,876 L1977.82,876.28 L1980.84,876.66 L1983.85,876.58 L1986.86,876.72 L1989.87,876.45 L1992.89,876.03 L1995.9,876 L1998.91,875.9 L2001.93,876.19 L2004.94,876.43 L2007.95,876.81 L2010.96,876.35 L2013.98,876.44 L2016.99,875.97 L2020,875.88 L2023.01,876.57 L2026.03,876.58 L2029.04,877.14 L2032.05,877.03 L2035.07,876.72 L2038.08,876.02 L2041.09,876.06 L2044.1,876.15 L2047.12,877.07 L2050.13,877.43 L2053.14,877.34 L2056.16,876.9 L2059.17,876.37 L2062.18,876.34 L2065.19,876.25 L2068.21,876.61 L2071.22,876.66 L2074.23,876.79 L2077.25,876.59 L2080.26,876.69 L2083.27,876.44 L2086.28,876.25 L2089.3,876.82 L2092.31,876.79 L2095.32,877.01 L2098.34,876.83 L2101.35,876.75 L2104.36,876.89 L2107.37,876.6 L2110.39,876.71 L2113.4,877.19" fill="none" stroke="#444444" stroke-width="4.3" stroke-linejoin="round"/>
<path d="M682.1,952.84 L685.11,953.41 L688.13,953.09 L691.14,953.72 L694.15,953.52 L697.17,954.08 L700.18,953.93 L703.19,953.6 L706.21,953.62 L709.22,953.5 L712.23,953.44 L715.25,953.34 L718.26,953.37 L721.28,953.66 L724.29,953.61 L727.3,953.49 L730.32,953.04 L733.33,953.15 L736.34,953.5 L739.36,953.12 L742.37,953.45 L745.38,952.99 L748.4,952.92 L751.41,952.14 L754.42,952.6 L757.44,952.86 L760.45,953.34 L763.46,953.55 L766.48,953.87 L769.49,953.47 L772.5,953.08 L775.52,953.15 L778.53,953.41 L781.55,953.1 L784.56,953.3 L787.57,953.04 L790.59,952.89 L793.6,952.98 L796.61,952.86 L799.63,952.75 L802.64,953.04 L805.65,953.36 L808.67,953.67 L811.68,953.42 L814.69,953.03 L817.71,952.81 L820.72,953.04 L823.73,953.26 L826.75,953.5 L829.76,953.46 L832.77,953.15 L835.79,952.8 L838.8,952.9 L841.81,952.72 L844.83,953.16 L847.84,953.23 L850.86,953.85 L853.87,953.59 L856.88,953.7 L859.9,953.55 L862.91,953.31 L865.92,953.21 L868.94,953.93 L871.95,953.94 L874.96,954.15 L877.98,953.62 L880.99,953.28 L884,953.43 L887.02,953.09 L890.03,952.64 L893.04,952.38 L896.06,952.37 L899.07,952.15 L902.08,952.55 L905.1,952.62 L908.11,952.66 L911.13,952.45 L914.14,952.73 L917.15,952.77 L920.17,952.93 L923.18,953.08 L926.19,953.69 L929.21,953.65 L932.22,953.82 L935.23,953.45 L938.25,953.83 L941.26,953.81 L944.27,953.2 L947.29,952.74 L950.3,952.51 L953.31,952.66 L956.33,952.81 L959.34,953.67 L962.35,953.41 L965.37,953.33 L968.38,953.18 L971.39,953.18 L974.41,953.47 L977.42,953.13 L980.44,953.22 L983.45,953.55 L986.46,953.2 L989.48,952.84 L992.49,952.88 L995.5,952.82 L998.52,953.02 L1001.53,953.48 L1004.54,953.42 L1007.56,953.85 L1010.57,953.87 L1013.58,953.65 L1016.6,953.75 L1019.61,953.8 L1022.62,953.49 L1025.64,953.1 L1028.65,952.95 L1031.66,953.08 L1034.68,952.92 L1037.69,953.13 L1040.71,953.3 L1043.72,953.06 L1046.73,953.4 L1049.75,953.54 L1052.76,953.08 L1055.77,953.04 L1058.79,952.77 L1061.8,952.43 L1064.81,952.41 L1067.83,952.56 L1070.84,952.37 L1073.85,952.42 L1076.87,953.16 L1079.88,953.58 L1082.89,953.55 L1085.91,953.53 L1088.92,953.63 L1091.93,953.73 L1094.95,954.02 L1097.96,953.98 L1100.97,954.11 L1103.99,954.1 L1107,953.95 L1110.02,952.96 L1113.03,952.58 L1116.04,952.59 L1119.06,952.82 L1122.07,952.91 L1125.08,953.35 L1128.1,953.51 L1131.11,953.45 L1134.12,953.63 L1137.14,953.45 L1140.15,953.52 L1143.16,953.21 L1146.18,952.63 L1149.19,952.59 L1152.2,953.3 L1155.22,953.73 L1158.23,954.2 L1161.24,954.02 L1164.26,953.56 L1167.27,952.91 L1170.29,952.55 L1173.3,952.29 L1176.31,953.06 L1179.33,953.32 L1182.34,953.66 L1185.35,953.51 L1188.37,953.73 L1191.38,953.98 L1194.39,953.83 L1197.41,953.61 L1200.42,953.7 L1203.43,953.64 L1206.45,953.91 L1209.46,953.6 L1212.47,953.63 L1215.49,953.81 L1218.5,953.56 L1221.51,953.82 L1224.53,954.02 L1227.54,953.79 L1230.55,953.58 L1233.57,953.59 L1236.58,953.58 L1239.6,953.41 L1242.61,953.46 L1245.62,953.52 L1248.64,953.6 L1251.65,953.44 L1254.66,953.06 L1257.68,952.83 L1260.69,952.81 L1263.7,953.38 L1266.72,953.91 L1269.73,953.95 L1272.74,953.81 L1275.76,953.56 L1278.77,953.1 L1281.78,953.31 L1284.8,953.16 L1287.81,953.17 L1290.82,953.19 L1293.84,953.09 L1296.85,952.94 L1299.87,952.83 L1302.88,952.79 L1305.89,953.08 L1308.91,953.3 L1311.92,953.64 L1314.93,953.38 L1317.95,953.46 L1320.96,953.6 L1323.97,953.21 L1326.99,953.3 L1330,953.2 L1357.3,952 L1381.8,945.4 L1414.5,932.4 L1442.3,919.3 L1452.1,913.5 L1462,920 L1488.1,930.7 L1529,940.5 L1561.8,946.3 L1586.3,947.9 L1594.5,951.2 L1610,953.2 L1613.01,953.86 L1616.02,953.67 L1619.02,953.93 L1622.03,953.47 L1625.04,953.5 L1628.05,953.28 L1631.05,953.24 L1634.06,952.93 L1637.07,953.11 L1640.08,952.76 L1643.08,952.33 L1646.09,952.47 L1649.1,952.79 L1652.11,952.91 L1655.11,953.07 L1658.12,953.13 L1661.13,953.62 L1664.14,953.91 L1667.14,953.81 L1670.15,953.91 L1673.16,953.81 L1676.17,953.88 L1679.17,953.71 L1682.18,952.84 L1685.19,952.8 L1688.2,952.53 L1691.2,952.96 L1694.21,953.1 L1697.22,953.28 L1700.23,953.56 L1703.24,953.54 L1706.24,953.57 L1709.25,953.69 L1712.26,953.74 L1715.27,953.3 L1718.27,953.13 L1721.28,953.07 L1724.29,953.08 L1727.3,953.38 L1730.3,953.47 L1733.31,953.27 L1736.32,953.1 L1739.33,953.12 L1742.33,953.02 L1745.34,953.26 L1748.35,953.07 L1751.36,953.53 L1754.36,953.5 L1757.37,953.39 L1760.38,953.26 L1763.39,952.75 L1766.39,953.1 L1769.4,952.71 L1772.41,952.8 L1775.42,953.1 L1778.42,953.3 L1781.43,953.27 L1784.44,953.2 L1787.45,953.22 L1790.46,953.45 L1793.46,953.91 L1796.47,954.02 L1799.48,954.07 L1802.49,953.55 L1805.49,953.39 L1808.5,953.03 L1811.51,952.79 L1814.52,953.05 L1817.52,953.17 L1820.53,953.28 L1823.54,953.45 L1826.55,953.52 L1829.55,953.3 L1832.56,953.36 L1835.57,953.47 L1838.58,953.05 L1841.58,953.11 L1844.59,953.04 L1847.6,953.38 L1850.61,953.95 L1853.61,953.78 L1856.62,953.58 L1859.63,953.98 L1862.64,953.88 L1865.64,954.03 L1868.65,953.98 L1871.66,953.74 L1874.67,953.67 L1877.68,953.57 L1880.68,953.09 L1883.69,952.52 L1886.7,952.65 L1889.71,952.65 L1892.71,952.54 L1895.72,952.87 L1898.73,952.47 L1901.74,952.95 L1904.74,953.46 L1907.75,953.54 L1910.76,953.09 L1913.77,953 L1916.77,953.06 L1919.78,952.95 L1922.79,952.86 L1925.8,953.22 L1928.8,953.37 L1931.81,953.37 L1934.82,953.11 L1937.83,953.12 L1940.83,952.73 L1943.84,952.7 L1946.85,952.94 L1949.86,953.43 L1952.86,953.11 L1955.87,952.9 L1958.88,952.72 L1961.89,952.66 L1964.9,952.74 L1967.9,952.7 L1970.91,953.03 L1973.92,953.32 L1976.93,953.57 L1979.93,953.5 L1982.94,953.51 L1985.95,953.46 L1988.96,953.59 L1991.96,953.05 L1994.97,952.71 L1997.98,952.76 L2000.99,952.71 L2003.99,953.26 L2007,953.34 L2010.01,953.13 L2013.02,953.32 L2016.02,953.21 L2019.03,953.53 L2022.04,953.19 L2025.05,952.52 L2028.05,952.59 L2031.06,952.44 L2034.07,953.11 L2037.08,953.82 L2040.08,953.99 L2043.09,953.51 L2046.1,953.35 L2046.1,954.2 L682.1,954.2 Z" fill="url(#gG)" stroke="none"/>
<path d="M682.1,952.84 L685.11,953.41 L688.13,953.09 L691.14,953.72 L694.15,953.52 L697.17,954.08 L700.18,953.93 L703.19,953.6 L706.21,953.62 L709.22,953.5 L712.23,953.44 L715.25,953.34 L718.26,953.37 L721.28,953.66 L724.29,953.61 L727.3,953.49 L730.32,953.04 L733.33,953.15 L736.34,953.5 L739.36,953.12 L742.37,953.45 L745.38,952.99 L748.4,952.92 L751.41,952.14 L754.42,952.6 L757.44,952.86 L760.45,953.34 L763.46,953.55 L766.48,953.87 L769.49,953.47 L772.5,953.08 L775.52,953.15 L778.53,953.41 L781.55,953.1 L784.56,953.3 L787.57,953.04 L790.59,952.89 L793.6,952.98 L796.61,952.86 L799.63,952.75 L802.64,953.04 L805.65,953.36 L808.67,953.67 L811.68,953.42 L814.69,953.03 L817.71,952.81 L820.72,953.04 L823.73,953.26 L826.75,953.5 L829.76,953.46 L832.77,953.15 L835.79,952.8 L838.8,952.9 L841.81,952.72 L844.83,953.16 L847.84,953.23 L850.86,953.85 L853.87,953.59 L856.88,953.7 L859.9,953.55 L862.91,953.31 L865.92,953.21 L868.94,953.93 L871.95,953.94 L874.96,954.15 L877.98,953.62 L880.99,953.28 L884,953.43 L887.02,953.09 L890.03,952.64 L893.04,952.38 L896.06,952.37 L899.07,952.15 L902.08,952.55 L905.1,952.62 L908.11,952.66 L911.13,952.45 L914.14,952.73 L917.15,952.77 L920.17,952.93 L923.18,953.08 L926.19,953.69 L929.21,953.65 L932.22,953.82 L935.23,953.45 L938.25,953.83 L941.26,953.81 L944.27,953.2 L947.29,952.74 L950.3,952.51 L953.31,952.66 L956.33,952.81 L959.34,953.67 L962.35,953.41 L965.37,953.33 L968.38,953.18 L971.39,953.18 L974.41,953.47 L977.42,953.13 L980.44,953.22 L983.45,953.55 L986.46,953.2 L989.48,952.84 L992.49,952.88 L995.5,952.82 L998.52,953.02 L1001.53,953.48 L1004.54,953.42 L1007.56,953.85 L1010.57,953.87 L1013.58,953.65 L1016.6,953.75 L1019.61,953.8 L1022.62,953.49 L1025.64,953.1 L1028.65,952.95 L1031.66,953.08 L1034.68,952.92 L1037.69,953.13 L1040.71,953.3 L1043.72,953.06 L1046.73,953.4 L1049.75,953.54 L1052.76,953.08 L1055.77,953.04 L1058.79,952.77 L1061.8,952.43 L1064.81,952.41 L1067.83,952.56 L1070.84,952.37 L1073.85,952.42 L1076.87,953.16 L1079.88,953.58 L1082.89,953.55 L1085.91,953.53 L1088.92,953.63 L1091.93,953.73 L1094.95,954.02 L1097.96,953.98 L1100.97,954.11 L1103.99,954.1 L1107,953.95 L1110.02,952.96 L1113.03,952.58 L1116.04,952.59 L1119.06,952.82 L1122.07,952.91 L1125.08,953.35 L1128.1,953.51 L1131.11,953.45 L1134.12,953.63 L1137.14,953.45 L1140.15,953.52 L1143.16,953.21 L1146.18,952.63 L1149.19,952.59 L1152.2,953.3 L1155.22,953.73 L1158.23,954.2 L1161.24,954.02 L1164.26,953.56 L1167.27,952.91 L1170.29,952.55 L1173.3,952.29 L1176.31,953.06 L1179.33,953.32 L1182.34,953.66 L1185.35,953.51 L1188.37,953.73 L1191.38,953.98 L1194.39,953.83 L1197.41,953.61 L1200.42,953.7 L1203.43,953.64 L1206.45,953.91 L1209.46,953.6 L1212.47,953.63 L1215.49,953.81 L1218.5,953.56 L1221.51,953.82 L1224.53,954.02 L1227.54,953.79 L1230.55,953.58 L1233.57,953.59 L1236.58,953.58 L1239.6,953.41 L1242.61,953.46 L1245.62,953.52 L1248.64,953.6 L1251.65,953.44 L1254.66,953.06 L1257.68,952.83 L1260.69,952.81 L1263.7,953.38 L1266.72,953.91 L1269.73,953.95 L1272.74,953.81 L1275.76,953.56 L1278.77,953.1 L1281.78,953.31 L1284.8,953.16 L1287.81,953.17 L1290.82,953.19 L1293.84,953.09 L1296.85,952.94 L1299.87,952.83 L1302.88,952.79 L1305.89,953.08 L1308.91,953.3 L1311.92,953.64 L1314.93,953.38 L1317.95,953.46 L1320.96,953.6 L1323.97,953.21 L1326.99,953.3 L1330,953.2 L1357.3,952 L1381.8,945.4 L1414.5,932.4 L1442.3,919.3 L1452.1,913.5 L1462,920 L1488.1,930.7 L1529,940.5 L1561.8,946.3 L1586.3,947.9 L1594.5,951.2 L1610,953.2 L1613.01,953.86 L1616.02,953.67 L1619.02,953.93 L1622.03,953.47 L1625.04,953.5 L1628.05,953.28 L1631.05,953.24 L1634.06,952.93 L1637.07,953.11 L1640.08,952.76 L1643.08,952.33 L1646.09,952.47 L1649.1,952.79 L1652.11,952.91 L1655.11,953.07 L1658.12,953.13 L1661.13,953.62 L1664.14,953.91 L1667.14,953.81 L1670.15,953.91 L1673.16,953.81 L1676.17,953.88 L1679.17,953.71 L1682.18,952.84 L1685.19,952.8 L1688.2,952.53 L1691.2,952.96 L1694.21,953.1 L1697.22,953.28 L1700.23,953.56 L1703.24,953.54 L1706.24,953.57 L1709.25,953.69 L1712.26,953.74 L1715.27,953.3 L1718.27,953.13 L1721.28,953.07 L1724.29,953.08 L1727.3,953.38 L1730.3,953.47 L1733.31,953.27 L1736.32,953.1 L1739.33,953.12 L1742.33,953.02 L1745.34,953.26 L1748.35,953.07 L1751.36,953.53 L1754.36,953.5 L1757.37,953.39 L1760.38,953.26 L1763.39,952.75 L1766.39,953.1 L1769.4,952.71 L1772.41,952.8 L1775.42,953.1 L1778.42,953.3 L1781.43,953.27 L1784.44,953.2 L1787.45,953.22 L1790.46,953.45 L1793.46,953.91 L1796.47,954.02 L1799.48,954.07 L1802.49,953.55 L1805.49,953.39 L1808.5,953.03 L1811.51,952.79 L1814.52,953.05 L1817.52,953.17 L1820.53,953.28 L1823.54,953.45 L1826.55,953.52 L1829.55,953.3 L1832.56,953.36 L1835.57,953.47 L1838.58,953.05 L1841.58,953.11 L1844.59,953.04 L1847.6,953.38 L1850.61,953.95 L1853.61,953.78 L1856.62,953.58 L1859.63,953.98 L1862.64,953.88 L1865.64,954.03 L1868.65,953.98 L1871.66,953.74 L1874.67,953.67 L1877.68,953.57 L1880.68,953.09 L1883.69,952.52 L1886.7,952.65 L1889.71,952.65 L1892.71,952.54 L1895.72,952.87 L1898.73,952.47 L1901.74,952.95 L1904.74,953.46 L1907.75,953.54 L1910.76,953.09 L1913.77,953 L1916.77,953.06 L1919.78,952.95 L1922.79,952.86 L1925.8,953.22 L1928.8,953.37 L1931.81,953.37 L1934.82,953.11 L1937.83,953.12 L1940.83,952.73 L1943.84,952.7 L1946.85,952.94 L1949.86,953.43 L1952.86,953.11 L1955.87,952.9 L1958.88,952.72 L1961.89,952.66 L1964.9,952.74 L1967.9,952.7 L1970.91,953.03 L1973.92,953.32 L1976.93,953.57 L1979.93,953.5 L1982.94,953.51 L1985.95,953.46 L1988.96,953.59 L1991.96,953.05 L1994.97,952.71 L1997.98,952.76 L2000.99,952.71 L2003.99,953.26 L2007,953.34 L2010.01,953.13 L2013.02,953.32 L2016.02,953.21 L2019.03,953.53 L2022.04,953.19 L2025.05,952.52 L2028.05,952.59 L2031.06,952.44 L2034.07,953.11 L2037.08,953.82 L2040.08,953.99 L2043.09,953.51 L2046.1,953.35" fill="none" stroke="#444444" stroke-width="4.3" stroke-linejoin="round"/>
<path d="M648.45,992.11 L651.45,991.86 L654.46,991.88 L657.46,992.14 L660.47,991.93 L663.47,991.83 L666.48,991.09 L669.48,990.68 L672.49,990.76 L675.49,991.01 L678.5,991.84 L681.5,991.74 L684.51,991.85 L687.51,991.53 L690.52,991.65 L693.52,991.54 L696.53,991.58 L699.53,991.48 L702.54,991.56 L705.54,991.89 L708.55,991.43 L711.55,991.1 L714.56,990.92 L717.56,991.07 L720.57,991.38 L723.57,991.61 L726.58,992.03 L729.58,991.93 L732.59,991.96 L735.59,992.32 L738.6,991.99 L741.6,991.83 L744.61,991.79 L747.61,991.26 L750.62,991.41 L753.62,991.58 L756.63,991.55 L759.63,991.22 L762.64,991.39 L765.64,991.72 L768.65,991.65 L771.65,991.9 L774.66,991.23 L777.66,991.22 L780.67,990.8 L783.67,990.64 L786.68,990.7 L789.68,990.48 L792.69,990.77 L795.69,990.85 L798.7,991.69 L801.7,991.92 L804.71,991.87 L807.71,991.86 L810.72,992.1 L813.72,991.93 L816.73,992.29 L819.73,991.98 L822.73,992.23 L825.74,992.25 L828.74,991.73 L831.75,991.32 L834.75,990.66 L837.76,990.8 L840.76,991.11 L843.77,991.42 L846.77,991.68 L849.78,991.56 L852.78,991.7 L855.79,992.12 L858.79,991.86 L861.8,991.81 L864.8,991.16 L867.81,991.12 L870.81,991.07 L873.82,991.57 L876.82,991.98 L879.83,992.12 L882.83,991.99 L885.84,991.29 L888.84,990.63 L891.85,990.78 L894.85,990.87 L897.86,991.43 L900.86,992.04 L903.87,992.02 L906.87,992.14 L909.88,992.22 L912.88,991.89 L915.89,991.95 L918.89,991.78 L921.9,992.07 L924.9,992.05 L927.91,991.91 L930.91,991.97 L933.92,992.11 L936.92,992.14 L939.93,991.93 L942.93,992.26 L945.94,992.02 L948.94,992.12 L951.95,991.81 L954.95,991.69 L957.96,992.07 L960.96,992.02 L963.97,992.08 L966.97,991.78 L969.98,991.73 L972.98,991.52 L975.99,991.23 L978.99,991.14 L982,991.34 L985,991 L988,988.5 L1007,985.7 L1030,987.5 L1044.5,988.5 L1054,984.8 L1061,982 L1067,977.3 L1072.7,969.7 L1076.5,952.8 L1080.3,924.6 L1085.9,895.4 L1091.6,902 L1095.3,926.5 L1099.5,800 L1101.9,713 L1103.4,696.7 L1105,713 L1109.4,847.5 L1111.8,919 L1115.4,979 L1123.7,986.2 L1140,981 L1152.4,977.8 L1174,982.6 L1200,988.6 L1220,991 L1223,991.59 L1226,991.54 L1229.01,992.08 L1232.01,992.04 L1235.01,992.05 L1238.01,991.67 L1241.01,991.63 L1244.01,991.73 L1247.02,991.69 L1250.02,991.71 L1253.02,992.25 L1256.02,992.21 L1259.02,991.87 L1262.02,991.65 L1265.03,992.01 L1268.03,991.98 L1271.03,991.91 L1274.03,992.2 L1277.03,992.49 L1280.03,991.77 L1283.04,991.47 L1286.04,990.96 L1289.04,990.89 L1292.04,990.73 L1295.04,990.89 L1298.04,990.92 L1301.05,990.61 L1304.05,991.18 L1307.05,991.04 L1310.05,991.32 L1313.05,991.2 L1316.05,991.23 L1319.06,991.28 L1322.06,991.28 L1325.06,991.63 L1328.06,991.94 L1331.06,992.48 L1334.06,992.27 L1337.07,992.16 L1340.07,992.23 L1343.07,991.79 L1346.07,991.94 L1349.07,991.34 L1352.08,991.5 L1355.08,991.5 L1358.08,991.01 L1361.08,990.92 L1364.08,991.03 L1367.08,990.94 L1370.09,991.05 L1373.09,991.05 L1376.09,991.01 L1379.09,991.41 L1382.09,991.82 L1385.09,991.96 L1388.1,992.02 L1391.1,991.88 L1394.1,992.1 L1397.1,992.05 L1400.1,991.63 L1403.1,991.18 L1406.11,990.92 L1409.11,990.82 L1412.11,991.29 L1415.11,991.35 L1418.11,991.54 L1421.11,991.88 L1424.12,991.63 L1427.12,991.98 L1430.12,991.93 L1433.12,992.06 L1436.12,991.69 L1439.12,991.6 L1442.13,991.26 L1445.13,991.56 L1448.13,991.6 L1451.13,991.58 L1454.13,991.72 L1457.13,991.72 L1460.14,991.32 L1463.14,991.39 L1466.14,991.45 L1469.14,991.43 L1472.14,991.41 L1475.14,991.52 L1478.15,991.35 L1481.15,991.41 L1484.15,991.16 L1487.15,991.01 L1490.15,991.18 L1493.16,991.32 L1496.16,991.3 L1499.16,991.23 L1502.16,991.23 L1505.16,991.24 L1508.16,991.76 L1511.17,991.9 L1514.17,991.94 L1517.17,992.49 L1520.17,992.53 L1523.17,991.91 L1526.17,991.23 L1529.18,991.24 L1532.18,991.27 L1535.18,991.27 L1538.18,991.55 L1541.18,991.3 L1544.18,991.78 L1547.19,991.66 L1550.19,991.67 L1553.19,991.81 L1556.19,991.59 L1559.19,991.3 L1562.19,991.27 L1565.2,991.34 L1568.2,991.56 L1571.2,992.16 L1574.2,992.24 L1577.2,991.97 L1580.2,991.92 L1583.21,992.16 L1586.21,992.26 L1589.21,992.3 L1592.21,991.91 L1595.21,992.22 L1598.21,992.01 L1601.22,991.49 L1604.22,990.87 L1607.22,990.73 L1610.22,991.06 L1613.22,990.83 L1616.22,990.86 L1619.23,991.03 L1622.23,991.23 L1625.23,991.79 L1628.23,991.62 L1631.23,991.4 L1634.24,991.42 L1637.24,991.26 L1640.24,991.33 L1643.24,991.41 L1646.24,991.72 L1649.24,991.87 L1652.25,991.6 L1655.25,991.39 L1658.25,990.99 L1661.25,990.98 L1664.25,991.23 L1667.25,991.2 L1670.26,991.69 L1673.26,991.44 L1676.26,991.34 L1679.26,991.25 L1682.26,990.6 L1685.26,990.65 L1688.27,991.18 L1691.27,991.41 L1694.27,991.82 L1697.27,991.51 L1700.27,992.04 L1703.27,992.15 L1706.28,992.1 L1709.28,991.66 L1712.28,991.21 L1715.28,991.17 L1718.28,991.12 L1721.28,991.19 L1724.29,991.28 L1727.29,991.38 L1730.29,991.54 L1733.29,991.72 L1736.29,991.84 L1739.29,991.45 L1742.3,991.23 L1745.3,990.9 L1748.3,990.72 L1751.3,990.74 L1754.3,991.17 L1757.31,991.66 L1760.31,991.98 L1763.31,991.93 L1766.31,991.95 L1769.31,991.73 L1772.31,991.75 L1775.32,991.94 L1778.32,992.05 L1781.32,992.31 L1784.32,992.1 L1787.32,991.53 L1790.32,990.82 L1793.33,990.94 L1796.33,990.89 L1799.33,991.34 L1802.33,991.47 L1805.33,991.81 L1808.33,991.26 L1811.34,991.17 L1814.34,991.31 L1817.34,991.03 L1820.34,991.39 L1823.34,991.31 L1826.34,991.36 L1829.35,991.47 L1832.35,991.58 L1835.35,991.58 L1838.35,991.46 L1841.35,991.56 L1844.35,991.04 L1847.36,990.62 L1850.36,990.82 L1853.36,991.24 L1856.36,991.98 L1859.36,992.14 L1862.36,991.95 L1865.37,991.34 L1868.37,991.15 L1871.37,991.05 L1874.37,991.01 L1877.37,990.66 L1880.38,990.76 L1883.38,990.77 L1886.38,990.95 L1889.38,990.77 L1892.38,990.86 L1895.38,990.78 L1898.39,991.69 L1901.39,991.93 L1904.39,992.01 L1907.39,991.46 L1910.39,990.89 L1913.39,991.02 L1916.4,991.01 L1919.4,991 L1922.4,991.64 L1925.4,991.48 L1928.4,991.36 L1931.4,990.81 L1934.41,990.8 L1937.41,990.61 L1940.41,990.9 L1943.41,990.88 L1946.41,991.18 L1949.41,991.25 L1952.42,991.37 L1955.42,991.83 L1958.42,991.55 L1961.42,991.94 L1964.42,991.92 L1967.42,992.28 L1970.43,992.32 L1973.43,991.86 L1976.43,991.85 L1979.43,991.95 L1982.43,991.99 L1985.43,991.83 L1988.44,992.29 L1991.44,992.33 L1994.44,992.13 L1997.44,991.16 L2000.44,991.07 L2003.44,990.7 L2006.45,990.98 L2009.45,991.54 L2012.45,991.98 L2012.45,992.5 L648.45,992.5 Z" fill="url(#gY)" stroke="none"/>
<path d="M648.45,992.11 L651.45,991.86 L654.46,991.88 L657.46,992.14 L660.47,991.93 L663.47,991.83 L666.48,991.09 L669.48,990.68 L672.49,990.76 L675.49,991.01 L678.5,991.84 L681.5,991.74 L684.51,991.85 L687.51,991.53 L690.52,991.65 L693.52,991.54 L696.53,991.58 L699.53,991.48 L702.54,991.56 L705.54,991.89 L708.55,991.43 L711.55,991.1 L714.56,990.92 L717.56,991.07 L720.57,991.38 L723.57,991.61 L726.58,992.03 L729.58,991.93 L732.59,991.96 L735.59,992.32 L738.6,991.99 L741.6,991.83 L744.61,991.79 L747.61,991.26 L750.62,991.41 L753.62,991.58 L756.63,991.55 L759.63,991.22 L762.64,991.39 L765.64,991.72 L768.65,991.65 L771.65,991.9 L774.66,991.23 L777.66,991.22 L780.67,990.8 L783.67,990.64 L786.68,990.7 L789.68,990.48 L792.69,990.77 L795.69,990.85 L798.7,991.69 L801.7,991.92 L804.71,991.87 L807.71,991.86 L810.72,992.1 L813.72,991.93 L816.73,992.29 L819.73,991.98 L822.73,992.23 L825.74,992.25 L828.74,991.73 L831.75,991.32 L834.75,990.66 L837.76,990.8 L840.76,991.11 L843.77,991.42 L846.77,991.68 L849.78,991.56 L852.78,991.7 L855.79,992.12 L858.79,991.86 L861.8,991.81 L864.8,991.16 L867.81,991.12 L870.81,991.07 L873.82,991.57 L876.82,991.98 L879.83,992.12 L882.83,991.99 L885.84,991.29 L888.84,990.63 L891.85,990.78 L894.85,990.87 L897.86,991.43 L900.86,992.04 L903.87,992.02 L906.87,992.14 L909.88,992.22 L912.88,991.89 L915.89,991.95 L918.89,991.78 L921.9,992.07 L924.9,992.05 L927.91,991.91 L930.91,991.97 L933.92,992.11 L936.92,992.14 L939.93,991.93 L942.93,992.26 L945.94,992.02 L948.94,992.12 L951.95,991.81 L954.95,991.69 L957.96,992.07 L960.96,992.02 L963.97,992.08 L966.97,991.78 L969.98,991.73 L972.98,991.52 L975.99,991.23 L978.99,991.14 L982,991.34 L985,991 L988,988.5 L1007,985.7 L1030,987.5 L1044.5,988.5 L1054,984.8 L1061,982 L1067,977.3 L1072.7,969.7 L1076.5,952.8 L1080.3,924.6 L1085.9,895.4 L1091.6,902 L1095.3,926.5 L1099.5,800 L1101.9,713 L1103.4,696.7 L1105,713 L1109.4,847.5 L1111.8,919 L1115.4,979 L1123.7,986.2 L1140,981 L1152.4,977.8 L1174,982.6 L1200,988.6 L1220,991 L1223,991.59 L1226,991.54 L1229.01,992.08 L1232.01,992.04 L1235.01,992.05 L1238.01,991.67 L1241.01,991.63 L1244.01,991.73 L1247.02,991.69 L1250.02,991.71 L1253.02,992.25 L1256.02,992.21 L1259.02,991.87 L1262.02,991.65 L1265.03,992.01 L1268.03,991.98 L1271.03,991.91 L1274.03,992.2 L1277.03,992.49 L1280.03,991.77 L1283.04,991.47 L1286.04,990.96 L1289.04,990.89 L1292.04,990.73 L1295.04,990.89 L1298.04,990.92 L1301.05,990.61 L1304.05,991.18 L1307.05,991.04 L1310.05,991.32 L1313.05,991.2 L1316.05,991.23 L1319.06,991.28 L1322.06,991.28 L1325.06,991.63 L1328.06,991.94 L1331.06,992.48 L1334.06,992.27 L1337.07,992.16 L1340.07,992.23 L1343.07,991.79 L1346.07,991.94 L1349.07,991.34 L1352.08,991.5 L1355.08,991.5 L1358.08,991.01 L1361.08,990.92 L1364.08,991.03 L1367.08,990.94 L1370.09,991.05 L1373.09,991.05 L1376.09,991.01 L1379.09,991.41 L1382.09,991.82 L1385.09,991.96 L1388.1,992.02 L1391.1,991.88 L1394.1,992.1 L1397.1,992.05 L1400.1,991.63 L1403.1,991.18 L1406.11,990.92 L1409.11,990.82 L1412.11,991.29 L1415.11,991.35 L1418.11,991.54 L1421.11,991.88 L1424.12,991.63 L1427.12,991.98 L1430.12,991.93 L1433.12,992.06 L1436.12,991.69 L1439.12,991.6 L1442.13,991.26 L1445.13,991.56 L1448.13,991.6 L1451.13,991.58 L1454.13,991.72 L1457.13,991.72 L1460.14,991.32 L1463.14,991.39 L1466.14,991.45 L1469.14,991.43 L1472.14,991.41 L1475.14,991.52 L1478.15,991.35 L1481.15,991.41 L1484.15,991.16 L1487.15,991.01 L1490.15,991.18 L1493.16,991.32 L1496.16,991.3 L1499.16,991.23 L1502.16,991.23 L1505.16,991.24 L1508.16,991.76 L1511.17,991.9 L1514.17,991.94 L1517.17,992.49 L1520.17,992.53 L1523.17,991.91 L1526.17,991.23 L1529.18,991.24 L1532.18,991.27 L1535.18,991.27 L1538.18,991.55 L1541.18,991.3 L1544.18,991.78 L1547.19,991.66 L1550.19,991.67 L1553.19,991.81 L1556.19,991.59 L1559.19,991.3 L1562.19,991.27 L1565.2,991.34 L1568.2,991.56 L1571.2,992.16 L1574.2,992.24 L1577.2,991.97 L1580.2,991.92 L1583.21,992.16 L1586.21,992.26 L1589.21,992.3 L1592.21,991.91 L1595.21,992.22 L1598.21,992.01 L1601.22,991.49 L1604.22,990.87 L1607.22,990.73 L1610.22,991.06 L1613.22,990.83 L1616.22,990.86 L1619.23,991.03 L1622.23,991.23 L1625.23,991.79 L1628.23,991.62 L1631.23,991.4 L1634.24,991.42 L1637.24,991.26 L1640.24,991.33 L1643.24,991.41 L1646.24,991.72 L1649.24,991.87 L1652.25,991.6 L1655.25,991.39 L1658.25,990.99 L1661.25,990.98 L1664.25,991.23 L1667.25,991.2 L1670.26,991.69 L1673.26,991.44 L1676.26,991.34 L1679.26,991.25 L1682.26,990.6 L1685.26,990.65 L1688.27,991.18 L1691.27,991.41 L1694.27,991.82 L1697.27,991.51 L1700.27,992.04 L1703.27,992.15 L1706.28,992.1 L1709.28,991.66 L1712.28,991.21 L1715.28,991.17 L1718.28,991.12 L1721.28,991.19 L1724.29,991.28 L1727.29,991.38 L1730.29,991.54 L1733.29,991.72 L1736.29,991.84 L1739.29,991.45 L1742.3,991.23 L1745.3,990.9 L1748.3,990.72 L1751.3,990.74 L1754.3,991.17 L1757.31,991.66 L1760.31,991.98 L1763.31,991.93 L1766.31,991.95 L1769.31,991.73 L1772.31,991.75 L1775.32,991.94 L1778.32,992.05 L1781.32,992.31 L1784.32,992.1 L1787.32,991.53 L1790.32,990.82 L1793.33,990.94 L1796.33,990.89 L1799.33,991.34 L1802.33,991.47 L1805.33,991.81 L1808.33,991.26 L1811.34,991.17 L1814.34,991.31 L1817.34,991.03 L1820.34,991.39 L1823.34,991.31 L1826.34,991.36 L1829.35,991.47 L1832.35,991.58 L1835.35,991.58 L1838.35,991.46 L1841.35,991.56 L1844.35,991.04 L1847.36,990.62 L1850.36,990.82 L1853.36,991.24 L1856.36,991.98 L1859.36,992.14 L1862.36,991.95 L1865.37,991.34 L1868.37,991.15 L1871.37,991.05 L1874.37,991.01 L1877.37,990.66 L1880.38,990.76 L1883.38,990.77 L1886.38,990.95 L1889.38,990.77 L1892.38,990.86 L1895.38,990.78 L1898.39,991.69 L1901.39,991.93 L1904.39,992.01 L1907.39,991.46 L1910.39,990.89 L1913.39,991.02 L1916.4,991.01 L1919.4,991 L1922.4,991.64 L1925.4,991.48 L1928.4,991.36 L1931.4,990.81 L1934.41,990.8 L1937.41,990.61 L1940.41,990.9 L1943.41,990.88 L1946.41,991.18 L1949.41,991.25 L1952.42,991.37 L1955.42,991.83 L1958.42,991.55 L1961.42,991.94 L1964.42,991.92 L1967.42,992.28 L1970.43,992.32 L1973.43,991.86 L1976.43,991.85 L1979.43,991.95 L1982.43,991.99 L1985.43,991.83 L1988.44,992.29 L1991.44,992.33 L1994.44,992.13 L1997.44,991.16 L2000.44,991.07 L2003.44,990.7 L2006.45,990.98 L2009.45,991.54 L2012.45,991.98" fill="none" stroke="#444444" stroke-width="4.3" stroke-linejoin="round"/>
<path d="M547.5,1107.61 L550.51,1107.31 L553.53,1107.23 L556.54,1107.12 L559.56,1107.02 L562.57,1106.29 L565.58,1106.36 L568.6,1106.43 L571.61,1106.98 L574.63,1107.07 L577.64,1107 L580.65,1107.48 L583.67,1107.46 L586.68,1107.61 L589.7,1107.58 L592.71,1107.42 L595.72,1106.74 L598.74,1106.85 L601.75,1106.8 L604.77,1107.05 L607.78,1107.28 L610.79,1107.24 L613.81,1106.83 L616.82,1106.86 L619.84,1107.16 L622.85,1107.11 L625.86,1107.02 L628.88,1107.11 L631.89,1106.96 L634.91,1107.18 L637.92,1106.76 L640.93,1106.88 L643.95,1106.75 L646.96,1106.55 L649.98,1106.75 L652.99,1106.73 L656,1107.09 L659.02,1106.99 L662.03,1106.76 L665.05,1106.85 L668.06,1107.21 L671.07,1107.64 L674.09,1107.92 L677.1,1107.73 L680.12,1107.29 L683.13,1106.67 L686.14,1106.78 L689.16,1106.72 L692.17,1106.69 L695.19,1107.01 L698.2,1107.29 L701.21,1106.84 L704.23,1106.92 L707.24,1107.2 L710.26,1106.97 L713.27,1106.89 L716.29,1106.92 L719.3,1106.78 L722.31,1107.08 L725.33,1107.33 L728.34,1107.76 L731.36,1107.82 L734.37,1107.34 L737.38,1107.61 L740.4,1107.72 L743.41,1107.77 L746.43,1107.72 L749.44,1107.64 L752.45,1107.64 L755.47,1107.22 L758.48,1106.69 L761.5,1106.58 L764.51,1106.57 L767.52,1106.62 L770.54,1106.51 L773.55,1106.33 L776.57,1106.67 L779.58,1106.98 L782.59,1107.16 L785.61,1107.31 L788.62,1107.02 L791.64,1106.87 L794.65,1106.62 L797.66,1106.46 L800.68,1106.77 L803.69,1106.97 L806.71,1107.4 L809.72,1107.06 L812.73,1106.77 L815.75,1106.5 L818.76,1106.45 L821.78,1106.66 L824.79,1106.78 L827.8,1106.87 L830.82,1107.26 L833.83,1106.76 L836.85,1106.41 L839.86,1106.33 L842.87,1106.35 L845.89,1106.65 L848.9,1106.91 L851.92,1107.11 L854.93,1107.19 L857.94,1107.52 L860.96,1107.51 L863.97,1107.63 L866.99,1107.01 L870,1107.5 L880,1107 L893,1108.3 L907.4,1101 L919.1,1104.3 L942.6,1103 L953,1096.5 L958.3,1086 L965.4,1054.8 L970.6,1060 L973.9,1087.4 L977.2,1090.6 L990.9,1080.9 L998.7,1084.8 L1005.9,1078.3 L1010.4,1084.8 L1015.6,1096.5 L1022.2,1101.1 L1049.6,1096.5 L1069.1,1101.1 L1093.9,1100.4 L1120,1105.6 L1140,1107 L1143.01,1107.4 L1146.02,1107.61 L1149.03,1107.81 L1152.04,1107.58 L1155.05,1106.63 L1158.06,1106.44 L1161.07,1106.34 L1164.08,1106.93 L1167.09,1106.94 L1170.1,1107.51 L1173.11,1107.14 L1176.12,1106.99 L1179.13,1106.76 L1182.14,1106.84 L1185.15,1106.89 L1188.16,1106.4 L1191.17,1106.35 L1194.18,1106.45 L1197.18,1106.61 L1200.19,1106.53 L1203.2,1106.58 L1206.21,1106.69 L1209.22,1106.51 L1212.23,1106.24 L1215.24,1106.68 L1218.25,1106.75 L1221.26,1107.1 L1224.27,1107.39 L1227.28,1107.69 L1230.29,1107.39 L1233.3,1107.34 L1236.31,1106.98 L1239.32,1107.06 L1242.33,1106.77 L1245.34,1106.46 L1248.35,1106.44 L1251.36,1106.56 L1254.37,1107.08 L1257.38,1107.09 L1260.39,1107.23 L1263.4,1107.27 L1266.41,1107.29 L1269.42,1107.21 L1272.43,1106.83 L1275.44,1107.01 L1278.45,1106.62 L1281.46,1106.4 L1284.47,1107.1 L1287.48,1107.7 L1290.49,1107.79 L1293.5,1107.49 L1296.51,1106.87 L1299.52,1106.58 L1302.53,1106.43 L1305.54,1106.23 L1308.54,1106.28 L1311.55,1106.31 L1314.56,1106.39 L1317.57,1106.63 L1320.58,1106.84 L1323.59,1107.22 L1326.6,1107.13 L1329.61,1106.95 L1332.62,1106.76 L1335.63,1106.7 L1338.64,1106.83 L1341.65,1106.6 L1344.66,1106.54 L1347.67,1106.9 L1350.68,1106.63 L1353.69,1106.72 L1356.7,1107.03 L1359.71,1107.22 L1362.72,1107.1 L1365.73,1107.5 L1368.74,1107.4 L1371.75,1106.86 L1374.76,1106.51 L1377.77,1106.35 L1380.78,1106.49 L1383.79,1106.41 L1386.8,1106.1 L1389.81,1106.43 L1392.82,1106.12 L1395.83,1106.36 L1398.84,1106.83 L1401.85,1106.61 L1404.86,1106.81 L1407.87,1107.6 L1410.88,1107.61 L1413.89,1107.77 L1416.89,1107.87 L1419.9,1107.77 L1422.91,1107.85 L1425.92,1107.72 L1428.93,1107.88 L1431.94,1107.37 L1434.95,1107.32 L1437.96,1107.58 L1440.97,1107.41 L1443.98,1107.6 L1446.99,1107.35 L1450,1106.84 L1453.01,1106.61 L1456.02,1106.27 L1459.03,1106.37 L1462.04,1107.03 L1465.05,1107.57 L1468.06,1107.64 L1471.07,1107.36 L1474.08,1107.26 L1477.09,1106.96 L1480.1,1107.1 L1483.11,1106.63 L1486.12,1106.71 L1489.13,1106.82 L1492.14,1106.77 L1495.15,1106.37 L1498.16,1106.52 L1501.17,1106.31 L1504.18,1106.69 L1507.19,1107.27 L1510.2,1107.76 L1513.21,1107.55 L1516.22,1107.07 L1519.23,1106.53 L1522.24,1106.58 L1525.25,1106.4 L1528.25,1107.05 L1531.26,1107.03 L1534.27,1107.34 L1537.28,1107.11 L1540.29,1107.6 L1543.3,1107.75 L1546.31,1107.17 L1549.32,1106.89 L1552.33,1106.98 L1555.34,1106.84 L1558.35,1106.34 L1561.36,1106.42 L1564.37,1105.94 L1567.38,1106.22 L1570.39,1106.01 L1573.4,1106.26 L1576.41,1106.61 L1579.42,1106.72 L1582.43,1107.14 L1585.44,1107.04 L1588.45,1107.53 L1591.46,1107.28 L1594.47,1106.59 L1597.48,1106.56 L1600.49,1106.49 L1603.5,1106.32 L1606.51,1106.28 L1609.52,1106.76 L1612.53,1106.73 L1615.54,1106.41 L1618.55,1106.65 L1621.56,1106.63 L1624.57,1106.43 L1627.58,1106.55 L1630.59,1106.18 L1633.6,1106.41 L1636.61,1106.57 L1639.61,1107.13 L1642.62,1107.43 L1645.63,1107.4 L1648.64,1107.46 L1651.65,1107.96 L1654.66,1107.87 L1657.67,1107.62 L1660.68,1107.55 L1663.69,1107.57 L1666.7,1107.37 L1669.71,1107.1 L1672.72,1106.46 L1675.73,1106.25 L1678.74,1106.06 L1681.75,1106.61 L1684.76,1106.78 L1687.77,1106.78 L1690.78,1106.94 L1693.79,1107.22 L1696.8,1107.26 L1699.81,1107.05 L1702.82,1107.12 L1705.83,1107.3 L1708.84,1107.63 L1711.85,1107.24 L1714.86,1107.01 L1717.87,1106.67 L1720.88,1106.57 L1723.89,1107.17 L1726.9,1107.79 L1729.91,1107.75 L1732.92,1107.78 L1735.93,1107.47 L1738.94,1107.17 L1741.95,1107.37 L1744.96,1107.18 L1747.96,1106.89 L1750.97,1106.15 L1753.98,1106.25 L1756.99,1106.7 L1760,1107.08 L1763.01,1107.24 L1766.02,1107.14 L1769.03,1107.7 L1772.04,1107.95 L1775.05,1107.89 L1778.06,1107.94 L1781.07,1107.22 L1784.08,1107.14 L1787.09,1106.97 L1790.1,1107.26 L1793.11,1107.27 L1796.12,1107.45 L1799.13,1107.5 L1802.14,1107.24 L1805.15,1107.3 L1808.16,1107.06 L1811.17,1107.23 L1814.18,1107.01 L1817.19,1107.29 L1820.2,1107.18 L1823.21,1107.05 L1826.22,1106.97 L1829.23,1106.81 L1832.24,1107.1 L1835.25,1106.68 L1838.26,1106.45 L1841.27,1106.51 L1844.28,1106.37 L1847.29,1106.63 L1850.3,1107.17 L1853.31,1107.11 L1856.32,1107.17 L1859.32,1107.15 L1862.33,1107.11 L1865.34,1106.78 L1868.35,1106.72 L1871.36,1106.43 L1874.37,1106.01 L1877.38,1106.09 L1880.39,1106.07 L1883.4,1106.24 L1886.41,1106.39 L1889.42,1106.74 L1892.43,1107.06 L1895.44,1107.49 L1898.45,1107.69 L1901.46,1107.7 L1904.47,1107.84 L1907.48,1108.02 L1910.49,1107.63 L1913.5,1107.75 L1913.5,1108 L547.5,1108 Z" fill="url(#gO)" stroke="none"/>
<path d="M547.5,1107.61 L550.51,1107.31 L553.53,1107.23 L556.54,1107.12 L559.56,1107.02 L562.57,1106.29 L565.58,1106.36 L568.6,1106.43 L571.61,1106.98 L574.63,1107.07 L577.64,1107 L580.65,1107.48 L583.67,1107.46 L586.68,1107.61 L589.7,1107.58 L592.71,1107.42 L595.72,1106.74 L598.74,1106.85 L601.75,1106.8 L604.77,1107.05 L607.78,1107.28 L610.79,1107.24 L613.81,1106.83 L616.82,1106.86 L619.84,1107.16 L622.85,1107.11 L625.86,1107.02 L628.88,1107.11 L631.89,1106.96 L634.91,1107.18 L637.92,1106.76 L640.93,1106.88 L643.95,1106.75 L646.96,1106.55 L649.98,1106.75 L652.99,1106.73 L656,1107.09 L659.02,1106.99 L662.03,1106.76 L665.05,1106.85 L668.06,1107.21 L671.07,1107.64 L674.09,1107.92 L677.1,1107.73 L680.12,1107.29 L683.13,1106.67 L686.14,1106.78 L689.16,1106.72 L692.17,1106.69 L695.19,1107.01 L698.2,1107.29 L701.21,1106.84 L704.23,1106.92 L707.24,1107.2 L710.26,1106.97 L713.27,1106.89 L716.29,1106.92 L719.3,1106.78 L722.31,1107.08 L725.33,1107.33 L728.34,1107.76 L731.36,1107.82 L734.37,1107.34 L737.38,1107.61 L740.4,1107.72 L743.41,1107.77 L746.43,1107.72 L749.44,1107.64 L752.45,1107.64 L755.47,1107.22 L758.48,1106.69 L761.5,1106.58 L764.51,1106.57 L767.52,1106.62 L770.54,1106.51 L773.55,1106.33 L776.57,1106.67 L779.58,1106.98 L782.59,1107.16 L785.61,1107.31 L788.62,1107.02 L791.64,1106.87 L794.65,1106.62 L797.66,1106.46 L800.68,1106.77 L803.69,1106.97 L806.71,1107.4 L809.72,1107.06 L812.73,1106.77 L815.75,1106.5 L818.76,1106.45 L821.78,1106.66 L824.79,1106.78 L827.8,1106.87 L830.82,1107.26 L833.83,1106.76 L836.85,1106.41 L839.86,1106.33 L842.87,1106.35 L845.89,1106.65 L848.9,1106.91 L851.92,1107.11 L854.93,1107.19 L857.94,1107.52 L860.96,1107.51 L863.97,1107.63 L866.99,1107.01 L870,1107.5 L880,1107 L893,1108.3 L907.4,1101 L919.1,1104.3 L942.6,1103 L953,1096.5 L958.3,1086 L965.4,1054.8 L970.6,1060 L973.9,1087.4 L977.2,1090.6 L990.9,1080.9 L998.7,1084.8 L1005.9,1078.3 L1010.4,1084.8 L1015.6,1096.5 L1022.2,1101.1 L1049.6,1096.5 L1069.1,1101.1 L1093.9,1100.4 L1120,1105.6 L1140,1107 L1143.01,1107.4 L1146.02,1107.61 L1149.03,1107.81 L1152.04,1107.58 L1155.05,1106.63 L1158.06,1106.44 L1161.07,1106.34 L1164.08,1106.93 L1167.09,1106.94 L1170.1,1107.51 L1173.11,1107.14 L1176.12,1106.99 L1179.13,1106.76 L1182.14,1106.84 L1185.15,1106.89 L1188.16,1106.4 L1191.17,1106.35 L1194.18,1106.45 L1197.18,1106.61 L1200.19,1106.53 L1203.2,1106.58 L1206.21,1106.69 L1209.22,1106.51 L1212.23,1106.24 L1215.24,1106.68 L1218.25,1106.75 L1221.26,1107.1 L1224.27,1107.39 L1227.28,1107.69 L1230.29,1107.39 L1233.3,1107.34 L1236.31,1106.98 L1239.32,1107.06 L1242.33,1106.77 L1245.34,1106.46 L1248.35,1106.44 L1251.36,1106.56 L1254.37,1107.08 L1257.38,1107.09 L1260.39,1107.23 L1263.4,1107.27 L1266.41,1107.29 L1269.42,1107.21 L1272.43,1106.83 L1275.44,1107.01 L1278.45,1106.62 L1281.46,1106.4 L1284.47,1107.1 L1287.48,1107.7 L1290.49,1107.79 L1293.5,1107.49 L1296.51,1106.87 L1299.52,1106.58 L1302.53,1106.43 L1305.54,1106.23 L1308.54,1106.28 L1311.55,1106.31 L1314.56,1106.39 L1317.57,1106.63 L1320.58,1106.84 L1323.59,1107.22 L1326.6,1107.13 L1329.61,1106.95 L1332.62,1106.76 L1335.63,1106.7 L1338.64,1106.83 L1341.65,1106.6 L1344.66,1106.54 L1347.67,1106.9 L1350.68,1106.63 L1353.69,1106.72 L1356.7,1107.03 L1359.71,1107.22 L1362.72,1107.1 L1365.73,1107.5 L1368.74,1107.4 L1371.75,1106.86 L1374.76,1106.51 L1377.77,1106.35 L1380.78,1106.49 L1383.79,1106.41 L1386.8,1106.1 L1389.81,1106.43 L1392.82,1106.12 L1395.83,1106.36 L1398.84,1106.83 L1401.85,1106.61 L1404.86,1106.81 L1407.87,1107.6 L1410.88,1107.61 L1413.89,1107.77 L1416.89,1107.87 L1419.9,1107.77 L1422.91,1107.85 L1425.92,1107.72 L1428.93,1107.88 L1431.94,1107.37 L1434.95,1107.32 L1437.96,1107.58 L1440.97,1107.41 L1443.98,1107.6 L1446.99,1107.35 L1450,1106.84 L1453.01,1106.61 L1456.02,1106.27 L1459.03,1106.37 L1462.04,1107.03 L1465.05,1107.57 L1468.06,1107.64 L1471.07,1107.36 L1474.08,1107.26 L1477.09,1106.96 L1480.1,1107.1 L1483.11,1106.63 L1486.12,1106.71 L1489.13,1106.82 L1492.14,1106.77 L1495.15,1106.37 L1498.16,1106.52 L1501.17,1106.31 L1504.18,1106.69 L1507.19,1107.27 L1510.2,1107.76 L1513.21,1107.55 L1516.22,1107.07 L1519.23,1106.53 L1522.24,1106.58 L1525.25,1106.4 L1528.25,1107.05 L1531.26,1107.03 L1534.27,1107.34 L1537.28,1107.11 L1540.29,1107.6 L1543.3,1107.75 L1546.31,1107.17 L1549.32,1106.89 L1552.33,1106.98 L1555.34,1106.84 L1558.35,1106.34 L1561.36,1106.42 L1564.37,1105.94 L1567.38,1106.22 L1570.39,1106.01 L1573.4,1106.26 L1576.41,1106.61 L1579.42,1106.72 L1582.43,1107.14 L1585.44,1107.04 L1588.45,1107.53 L1591.46,1107.28 L1594.47,1106.59 L1597.48,1106.56 L1600.49,1106.49 L1603.5,1106.32 L1606.51,1106.28 L1609.52,1106.76 L1612.53,1106.73 L1615.54,1106.41 L1618.55,1106.65 L1621.56,1106.63 L1624.57,1106.43 L1627.58,1106.55 L1630.59,1106.18 L1633.6,1106.41 L1636.61,1106.57 L1639.61,1107.13 L1642.62,1107.43 L1645.63,1107.4 L1648.64,1107.46 L1651.65,1107.96 L1654.66,1107.87 L1657.67,1107.62 L1660.68,1107.55 L1663.69,1107.57 L1666.7,1107.37 L1669.71,1107.1 L1672.72,1106.46 L1675.73,1106.25 L1678.74,1106.06 L1681.75,1106.61 L1684.76,1106.78 L1687.77,1106.78 L1690.78,1106.94 L1693.79,1107.22 L1696.8,1107.26 L1699.81,1107.05 L1702.82,1107.12 L1705.83,1107.3 L1708.84,1107.63 L1711.85,1107.24 L1714.86,1107.01 L1717.87,1106.67 L1720.88,1106.57 L1723.89,1107.17 L1726.9,1107.79 L1729.91,1107.75 L1732.92,1107.78 L1735.93,1107.47 L1738.94,1107.17 L1741.95,1107.37 L1744.96,1107.18 L1747.96,1106.89 L1750.97,1106.15 L1753.98,1106.25 L1756.99,1106.7 L1760,1107.08 L1763.01,1107.24 L1766.02,1107.14 L1769.03,1107.7 L1772.04,1107.95 L1775.05,1107.89 L1778.06,1107.94 L1781.07,1107.22 L1784.08,1107.14 L1787.09,1106.97 L1790.1,1107.26 L1793.11,1107.27 L1796.12,1107.45 L1799.13,1107.5 L1802.14,1107.24 L1805.15,1107.3 L1808.16,1107.06 L1811.17,1107.23 L1814.18,1107.01 L1817.19,1107.29 L1820.2,1107.18 L1823.21,1107.05 L1826.22,1106.97 L1829.23,1106.81 L1832.24,1107.1 L1835.25,1106.68 L1838.26,1106.45 L1841.27,1106.51 L1844.28,1106.37 L1847.29,1106.63 L1850.3,1107.17 L1853.31,1107.11 L1856.32,1107.17 L1859.32,1107.15 L1862.33,1107.11 L1865.34,1106.78 L1868.35,1106.72 L1871.36,1106.43 L1874.37,1106.01 L1877.38,1106.09 L1880.39,1106.07 L1883.4,1106.24 L1886.41,1106.39 L1889.42,1106.74 L1892.43,1107.06 L1895.44,1107.49 L1898.45,1107.69 L1901.46,1107.7 L1904.47,1107.84 L1907.48,1108.02 L1910.49,1107.63 L1913.5,1107.75" fill="none" stroke="#444444" stroke-width="4.3" stroke-linejoin="round"/>
<path d="M480.2,1182.54 L483.21,1182.61 L486.22,1182.44 L489.22,1182.48 L492.23,1182.45 L495.24,1182.71 L498.25,1183 L501.25,1183.47 L504.26,1183.68 L507.27,1183.09 L510.28,1182.69 L513.29,1182.7 L516.29,1182.56 L519.3,1182.9 L522.31,1183.18 L525.32,1183.58 L528.32,1183.01 L531.33,1182.91 L534.34,1182.73 L537.35,1182.37 L540.36,1182.56 L543.36,1182.86 L546.37,1182.84 L549.38,1182.81 L552.39,1182.92 L555.39,1183.4 L558.4,1183.45 L561.41,1183.73 L564.42,1183.7 L567.43,1183.9 L570.43,1184.03 L573.44,1184 L576.45,1183.63 L579.46,1183.57 L582.46,1183.73 L585.47,1184.08 L588.48,1183.9 L591.49,1184.33 L594.5,1183.85 L597.5,1183.04 L600.51,1182.72 L603.52,1182.55 L606.53,1182.75 L609.53,1183.52 L612.54,1183.55 L615.55,1183.58 L618.56,1183.43 L621.57,1183.51 L624.57,1183.4 L627.58,1182.89 L630.59,1182.94 L633.6,1182.7 L636.6,1182.68 L639.61,1182.89 L642.62,1182.7 L645.63,1182.75 L648.63,1182.95 L651.64,1182.73 L654.65,1182.75 L657.66,1182.77 L660.67,1183.2 L663.67,1183.59 L666.68,1183.94 L669.69,1183.78 L672.7,1183.43 L675.7,1183.55 L678.71,1183.39 L681.72,1183.41 L684.73,1183.18 L687.74,1182.65 L690.74,1182.65 L693.75,1182.8 L696.76,1183.52 L699.77,1183.4 L702.77,1183.41 L705.78,1183.71 L708.79,1183.58 L711.8,1183.3 L714.81,1183.51 L717.81,1183.26 L720.82,1182.91 L723.83,1182.66 L726.84,1183.33 L729.84,1183.74 L732.85,1184.19 L735.86,1184.3 L738.87,1183.66 L741.88,1183.04 L744.88,1182.39 L747.89,1182.48 L750.9,1182.57 L753.91,1182.32 L756.91,1182.82 L759.92,1182.7 L762.93,1183.04 L765.94,1183.29 L768.95,1183.23 L771.95,1183.35 L774.96,1182.98 L777.97,1182.87 L780.98,1182.84 L783.98,1182.69 L786.99,1182.85 L790,1183 L808,1181.5 L820.7,1179.8 L830,1174 L839.8,1171.3 L850,1175 L863.2,1177.6 L878,1172 L890.9,1166 L907.9,1168 L929.6,1158.5 L938.7,1161.7 L957,1170.9 L979.1,1165.6 L997.4,1170.9 L1036.5,1176.1 L1062.6,1180 L1086,1181.5 L1110,1183 L1113,1183.52 L1116.01,1182.64 L1119.01,1182.38 L1122.02,1182.4 L1125.02,1182.85 L1128.03,1182.95 L1131.03,1183.04 L1134.04,1183.15 L1137.04,1183.33 L1140.05,1183.31 L1143.05,1183.56 L1146.06,1183.37 L1149.06,1183.85 L1152.07,1183.72 L1155.07,1183.35 L1158.08,1183.25 L1161.08,1183.15 L1164.09,1183.08 L1167.09,1183.48 L1170.1,1183.81 L1173.1,1184.07 L1176.11,1184.28 L1179.11,1183.77 L1182.12,1183.71 L1185.12,1183.65 L1188.13,1183.37 L1191.13,1182.94 L1194.13,1182.88 L1197.14,1182.61 L1200.14,1183.13 L1203.15,1183.16 L1206.15,1183.6 L1209.16,1183.77 L1212.16,1183.66 L1215.17,1184.26 L1218.17,1183.93 L1221.18,1184.03 L1224.18,1183.48 L1227.19,1183.58 L1230.19,1183.36 L1233.2,1183.61 L1236.2,1183.63 L1239.21,1183.82 L1242.21,1183.8 L1245.22,1183.52 L1248.22,1183.39 L1251.23,1183.67 L1254.23,1183.3 L1257.24,1183.63 L1260.24,1183.24 L1263.25,1183.17 L1266.25,1183.13 L1269.26,1183.43 L1272.26,1183.48 L1275.27,1183.14 L1278.27,1183.05 L1281.27,1182.62 L1284.28,1182.86 L1287.28,1182.9 L1290.29,1182.92 L1293.29,1183.09 L1296.3,1183.44 L1299.3,1183.08 L1302.31,1183.43 L1305.31,1183.13 L1308.32,1183.01 L1311.32,1182.9 L1314.33,1182.48 L1317.33,1182.51 L1320.34,1182.34 L1323.34,1182.77 L1326.35,1182.53 L1329.35,1182.84 L1332.36,1182.88 L1335.36,1183.71 L1338.37,1184.08 L1341.37,1183.83 L1344.38,1183.78 L1347.38,1184.09 L1350.39,1184.26 L1353.39,1183.97 L1356.4,1183.99 L1359.4,1183.65 L1362.4,1183.92 L1365.41,1183.59 L1368.41,1183.46 L1371.42,1183.05 L1374.42,1183.13 L1377.43,1183.78 L1380.43,1184.06 L1383.44,1183.91 L1386.44,1183.83 L1389.45,1183.94 L1392.45,1184.21 L1395.46,1184.27 L1398.46,1183.6 L1401.47,1183.46 L1404.47,1183.48 L1407.48,1183.34 L1410.48,1183.18 L1413.49,1183.27 L1416.49,1183.67 L1419.5,1183.51 L1422.5,1182.96 L1425.51,1183.12 L1428.51,1182.92 L1431.52,1182.96 L1434.52,1182.47 L1437.53,1182.68 L1440.53,1182.38 L1443.53,1182.96 L1446.54,1183.43 L1449.54,1183.7 L1452.55,1183.24 L1455.55,1183.24 L1458.56,1182.77 L1461.56,1182.86 L1464.57,1182.52 L1467.57,1182.62 L1470.58,1182.67 L1473.58,1182.64 L1476.59,1182.79 L1479.59,1183.38 L1482.6,1183.54 L1485.6,1183.06 L1488.61,1182.91 L1491.61,1182.53 L1494.62,1182.69 L1497.62,1182.6 L1500.63,1182.81 L1503.63,1183.29 L1506.64,1183.23 L1509.64,1183.22 L1512.65,1182.99 L1515.65,1182.79 L1518.66,1183.1 L1521.66,1182.58 L1524.67,1182.68 L1527.67,1182.52 L1530.67,1182.93 L1533.68,1183.06 L1536.68,1183.38 L1539.69,1183.29 L1542.69,1183.19 L1545.7,1183.27 L1548.7,1183.12 L1551.71,1183.04 L1554.71,1183.13 L1557.72,1182.78 L1560.72,1182.6 L1563.73,1183.49 L1566.73,1183.76 L1569.74,1184.15 L1572.74,1184.01 L1575.75,1183.55 L1578.75,1183.6 L1581.76,1183.3 L1584.76,1182.99 L1587.77,1182.86 L1590.77,1182.71 L1593.78,1182.89 L1596.78,1182.57 L1599.79,1182.92 L1602.79,1182.79 L1605.8,1183.16 L1608.8,1183.33 L1611.8,1183.2 L1614.81,1183.51 L1617.81,1183.54 L1620.82,1182.8 L1623.82,1182.92 L1626.83,1183.06 L1629.83,1183.1 L1632.84,1183.66 L1635.84,1183.63 L1638.85,1183.47 L1641.85,1184.1 L1644.86,1183.98 L1647.86,1183.83 L1650.87,1183.66 L1653.87,1183.52 L1656.88,1183.24 L1659.88,1183.02 L1662.89,1182.76 L1665.89,1182.6 L1668.9,1182.53 L1671.9,1182.97 L1674.91,1183.11 L1677.91,1183.12 L1680.92,1183 L1683.92,1183.21 L1686.93,1183.39 L1689.93,1183.38 L1692.93,1183.14 L1695.94,1183.45 L1698.94,1183.67 L1701.95,1183.34 L1704.95,1183.7 L1707.96,1183.63 L1710.96,1183.63 L1713.97,1183.91 L1716.97,1184.04 L1719.98,1183.86 L1722.98,1184.3 L1725.99,1184.34 L1728.99,1184.24 L1732,1184.26 L1735,1184.13 L1738.01,1184.01 L1741.01,1184.11 L1744.02,1184 L1747.02,1183.75 L1750.03,1184.11 L1753.03,1183.95 L1756.04,1184.19 L1759.04,1184.08 L1762.05,1183.5 L1765.05,1182.7 L1768.06,1182.48 L1771.06,1182.7 L1774.07,1183.36 L1777.07,1183.69 L1780.07,1184.1 L1783.08,1183.81 L1786.08,1183.56 L1789.09,1183.24 L1792.09,1183.48 L1795.1,1183.62 L1798.1,1183.95 L1801.11,1183.76 L1804.11,1183.62 L1807.12,1183.93 L1810.12,1184.05 L1813.13,1183.91 L1816.13,1183.77 L1819.14,1183.39 L1822.14,1182.77 L1825.15,1182.8 L1828.15,1182.94 L1831.16,1183.4 L1834.16,1183.33 L1837.17,1183.23 L1840.17,1183.12 L1843.18,1183.02 L1846.18,1183.32 L1849.19,1183.17 L1852.19,1182.96 L1855.2,1182.83 L1858.2,1183.12 L1858.2,1184.3 L480.2,1184.3 Z" fill="url(#gR)" stroke="none"/>
<path d="M480.2,1182.54 L483.21,1182.61 L486.22,1182.44 L489.22,1182.48 L492.23,1182.45 L495.24,1182.71 L498.25,1183 L501.25,1183.47 L504.26,1183.68 L507.27,1183.09 L510.28,1182.69 L513.29,1182.7 L516.29,1182.56 L519.3,1182.9 L522.31,1183.18 L525.32,1183.58 L528.32,1183.01 L531.33,1182.91 L534.34,1182.73 L537.35,1182.37 L540.36,1182.56 L543.36,1182.86 L546.37,1182.84 L549.38,1182.81 L552.39,1182.92 L555.39,1183.4 L558.4,1183.45 L561.41,1183.73 L564.42,1183.7 L567.43,1183.9 L570.43,1184.03 L573.44,1184 L576.45,1183.63 L579.46,1183.57 L582.46,1183.73 L585.47,1184.08 L588.48,1183.9 L591.49,1184.33 L594.5,1183.85 L597.5,1183.04 L600.51,1182.72 L603.52,1182.55 L606.53,1182.75 L609.53,1183.52 L612.54,1183.55 L615.55,1183.58 L618.56,1183.43 L621.57,1183.51 L624.57,1183.4 L627.58,1182.89 L630.59,1182.94 L633.6,1182.7 L636.6,1182.68 L639.61,1182.89 L642.62,1182.7 L645.63,1182.75 L648.63,1182.95 L651.64,1182.73 L654.65,1182.75 L657.66,1182.77 L660.67,1183.2 L663.67,1183.59 L666.68,1183.94 L669.69,1183.78 L672.7,1183.43 L675.7,1183.55 L678.71,1183.39 L681.72,1183.41 L684.73,1183.18 L687.74,1182.65 L690.74,1182.65 L693.75,1182.8 L696.76,1183.52 L699.77,1183.4 L702.77,1183.41 L705.78,1183.71 L708.79,1183.58 L711.8,1183.3 L714.81,1183.51 L717.81,1183.26 L720.82,1182.91 L723.83,1182.66 L726.84,1183.33 L729.84,1183.74 L732.85,1184.19 L735.86,1184.3 L738.87,1183.66 L741.88,1183.04 L744.88,1182.39 L747.89,1182.48 L750.9,1182.57 L753.91,1182.32 L756.91,1182.82 L759.92,1182.7 L762.93,1183.04 L765.94,1183.29 L768.95,1183.23 L771.95,1183.35 L774.96,1182.98 L777.97,1182.87 L780.98,1182.84 L783.98,1182.69 L786.99,1182.85 L790,1183 L808,1181.5 L820.7,1179.8 L830,1174 L839.8,1171.3 L850,1175 L863.2,1177.6 L878,1172 L890.9,1166 L907.9,1168 L929.6,1158.5 L938.7,1161.7 L957,1170.9 L979.1,1165.6 L997.4,1170.9 L1036.5,1176.1 L1062.6,1180 L1086,1181.5 L1110,1183 L1113,1183.52 L1116.01,1182.64 L1119.01,1182.38 L1122.02,1182.4 L1125.02,1182.85 L1128.03,1182.95 L1131.03,1183.04 L1134.04,1183.15 L1137.04,1183.33 L1140.05,1183.31 L1143.05,1183.56 L1146.06,1183.37 L1149.06,1183.85 L1152.07,1183.72 L1155.07,1183.35 L1158.08,1183.25 L1161.08,1183.15 L1164.09,1183.08 L1167.09,1183.48 L1170.1,1183.81 L1173.1,1184.07 L1176.11,1184.28 L1179.11,1183.77 L1182.12,1183.71 L1185.12,1183.65 L1188.13,1183.37 L1191.13,1182.94 L1194.13,1182.88 L1197.14,1182.61 L1200.14,1183.13 L1203.15,1183.16 L1206.15,1183.6 L1209.16,1183.77 L1212.16,1183.66 L1215.17,1184.26 L1218.17,1183.93 L1221.18,1184.03 L1224.18,1183.48 L1227.19,1183.58 L1230.19,1183.36 L1233.2,1183.61 L1236.2,1183.63 L1239.21,1183.82 L1242.21,1183.8 L1245.22,1183.52 L1248.22,1183.39 L1251.23,1183.67 L1254.23,1183.3 L1257.24,1183.63 L1260.24,1183.24 L1263.25,1183.17 L1266.25,1183.13 L1269.26,1183.43 L1272.26,1183.48 L1275.27,1183.14 L1278.27,1183.05 L1281.27,1182.62 L1284.28,1182.86 L1287.28,1182.9 L1290.29,1182.92 L1293.29,1183.09 L1296.3,1183.44 L1299.3,1183.08 L1302.31,1183.43 L1305.31,1183.13 L1308.32,1183.01 L1311.32,1182.9 L1314.33,1182.48 L1317.33,1182.51 L1320.34,1182.34 L1323.34,1182.77 L1326.35,1182.53 L1329.35,1182.84 L1332.36,1182.88 L1335.36,1183.71 L1338.37,1184.08 L1341.37,1183.83 L1344.38,1183.78 L1347.38,1184.09 L1350.39,1184.26 L1353.39,1183.97 L1356.4,1183.99 L1359.4,1183.65 L1362.4,1183.92 L1365.41,1183.59 L1368.41,1183.46 L1371.42,1183.05 L1374.42,1183.13 L1377.43,1183.78 L1380.43,1184.06 L1383.44,1183.91 L1386.44,1183.83 L1389.45,1183.94 L1392.45,1184.21 L1395.46,1184.27 L1398.46,1183.6 L1401.47,1183.46 L1404.47,1183.48 L1407.48,1183.34 L1410.48,1183.18 L1413.49,1183.27 L1416.49,1183.67 L1419.5,1183.51 L1422.5,1182.96 L1425.51,1183.12 L1428.51,1182.92 L1431.52,1182.96 L1434.52,1182.47 L1437.53,1182.68 L1440.53,1182.38 L1443.53,1182.96 L1446.54,1183.43 L1449.54,1183.7 L1452.55,1183.24 L1455.55,1183.24 L1458.56,1182.77 L1461.56,1182.86 L1464.57,1182.52 L1467.57,1182.62 L1470.58,1182.67 L1473.58,1182.64 L1476.59,1182.79 L1479.59,1183.38 L1482.6,1183.54 L1485.6,1183.06 L1488.61,1182.91 L1491.61,1182.53 L1494.62,1182.69 L1497.62,1182.6 L1500.63,1182.81 L1503.63,1183.29 L1506.64,1183.23 L1509.64,1183.22 L1512.65,1182.99 L1515.65,1182.79 L1518.66,1183.1 L1521.66,1182.58 L1524.67,1182.68 L1527.67,1182.52 L1530.67,1182.93 L1533.68,1183.06 L1536.68,1183.38 L1539.69,1183.29 L1542.69,1183.19 L1545.7,1183.27 L1548.7,1183.12 L1551.71,1183.04 L1554.71,1183.13 L1557.72,1182.78 L1560.72,1182.6 L1563.73,1183.49 L1566.73,1183.76 L1569.74,1184.15 L1572.74,1184.01 L1575.75,1183.55 L1578.75,1183.6 L1581.76,1183.3 L1584.76,1182.99 L1587.77,1182.86 L1590.77,1182.71 L1593.78,1182.89 L1596.78,1182.57 L1599.79,1182.92 L1602.79,1182.79 L1605.8,1183.16 L1608.8,1183.33 L1611.8,1183.2 L1614.81,1183.51 L1617.81,1183.54 L1620.82,1182.8 L1623.82,1182.92 L1626.83,1183.06 L1629.83,1183.1 L1632.84,1183.66 L1635.84,1183.63 L1638.85,1183.47 L1641.85,1184.1 L1644.86,1183.98 L1647.86,1183.83 L1650.87,1183.66 L1653.87,1183.52 L1656.88,1183.24 L1659.88,1183.02 L1662.89,1182.76 L1665.89,1182.6 L1668.9,1182.53 L1671.9,1182.97 L1674.91,1183.11 L1677.91,1183.12 L1680.92,1183 L1683.92,1183.21 L1686.93,1183.39 L1689.93,1183.38 L1692.93,1183.14 L1695.94,1183.45 L1698.94,1183.67 L1701.95,1183.34 L1704.95,1183.7 L1707.96,1183.63 L1710.96,1183.63 L1713.97,1183.91 L1716.97,1184.04 L1719.98,1183.86 L1722.98,1184.3 L1725.99,1184.34 L1728.99,1184.24 L1732,1184.26 L1735,1184.13 L1738.01,1184.01 L1741.01,1184.11 L1744.02,1184 L1747.02,1183.75 L1750.03,1184.11 L1753.03,1183.95 L1756.04,1184.19 L1759.04,1184.08 L1762.05,1183.5 L1765.05,1182.7 L1768.06,1182.48 L1771.06,1182.7 L1774.07,1183.36 L1777.07,1183.69 L1780.07,1184.1 L1783.08,1183.81 L1786.08,1183.56 L1789.09,1183.24 L1792.09,1183.48 L1795.1,1183.62 L1798.1,1183.95 L1801.11,1183.76 L1804.11,1183.62 L1807.12,1183.93 L1810.12,1184.05 L1813.13,1183.91 L1816.13,1183.77 L1819.14,1183.39 L1822.14,1182.77 L1825.15,1182.8 L1828.15,1182.94 L1831.16,1183.4 L1834.16,1183.33 L1837.17,1183.23 L1840.17,1183.12 L1843.18,1183.02 L1846.18,1183.32 L1849.19,1183.17 L1852.19,1182.96 L1855.2,1182.83 L1858.2,1183.12" fill="none" stroke="#444444" stroke-width="4.3" stroke-linejoin="round"/>
<line x1="1164" y1="268" x2="1299" y2="209.5" stroke="#2d2d2d" stroke-width="3.3"/>
<line x1="1634.4" y1="537.2" x2="1663.4" y2="468.9" stroke="#2d2d2d" stroke-width="3.3"/>
<g fill="#242424" stroke="#242424" stroke-width="0.55">
<text x="1306.19" y="66.7" font-size="57.6" >Wavelength (µm)</text>
<text x="861.38" y="140.3" font-size="57" >3.5</text>
<text x="1060.68" y="140.3" font-size="57" >3</text>
<text x="1291.79" y="140.3" font-size="57" >2.5</text>
<text x="1687.88" y="140.3" font-size="57" >2</text>
<text x="1042.21" y="311" font-size="51" >Sample B</text>
<text x="1565.39" y="448.3" font-size="51.5" >Sample A</text>
<text x="890.14" y="707" font-size="50" >(a)</text>
<text transform="translate(852.3,653.36) rotate(-90)" font-size="57.4">PL Intensity (a.u.)</text>
<text x="2293.7" y="749" font-size="56" >40</text>
<text x="2227.65" y="826" font-size="56" >60</text>
<text x="2160.55" y="902.5" font-size="56" >80</text>
<text x="2095.41" y="978.8" font-size="56" >100</text>
<text x="2029.41" y="1057.3" font-size="56" >120</text>
<text x="1961.31" y="1133.7" font-size="56" >140</text>
<text x="1893.11" y="1210" font-size="56" >160</text>
<text x="561.53" y="1288.3" font-size="57" >0.4</text>
<text x="864.73" y="1288.3" font-size="57" >0.5</text>
<text x="1167.93" y="1288.3" font-size="57" >0.6</text>
<text x="1471.13" y="1288.3" font-size="57" >0.7</text>
<text x="1774.33" y="1288.3" font-size="57" >0.8</text>
<text x="1027.25" y="1354" font-size="57" >Energy (eV)</text>
<text transform="translate(2129.7,1159.8) rotate(-49)" font-size="58">Temperature (K)</text>
<text x="1857.16" y="942.3" font-size="50.8" font-style="italic" >x 10</text>
<text x="528.71" y="1168.3" font-size="50.5" font-style="italic" >x 2</text>
<text x="1596.9" y="1162.8" font-size="50.5" >820 kW/cm<tspan font-size="28" dy="-19">2</tspan></text>
<text x="102.06" y="375.5" font-size="55.5" >75</text>
<text x="102.06" y="529" font-size="55.5" >50</text>
<text x="102.06" y="682.5" font-size="55.5" >25</text>
<text x="133" y="836" font-size="55.5" >0</text>
<text x="223.31" y="889.5" font-size="56" >250</text>
<text x="404.81" y="889.5" font-size="56" >750</text>
<text x="564.2" y="889.5" font-size="56" >1250</text>
<text transform="translate(58.5,890.16) rotate(-90)" font-size="57.2">Integrated Intensity (a.u.)</text>
<text x="157.5" y="962.8" font-size="57.4" >Excitation (kW/cm<tspan font-size="33" dy="-22">2</tspan><tspan dy="22">)</tspan></text>
<text x="569.84" y="814" font-size="50" >(b)</text>
<text x="257.04" y="390.6" font-size="44.5" >20 K</text>
<text x="257.04" y="437" font-size="44.5" >50 K</text>
<text x="235.57" y="484" font-size="44.5" >110 K</text>
<text x="232.34" y="528.4" font-size="44.5" >140 K</text>
</g>
<rect x="182" y="339" width="448" height="487.5" fill="none" stroke="#606060" stroke-width="3.6"/>
<line x1="182" y1="812.5" x2="172" y2="812.5" stroke="#5e5e5e" stroke-width="2.6"/>
<line x1="182" y1="736.05" x2="176" y2="736.05" stroke="#5e5e5e" stroke-width="2.6"/>
<line x1="182" y1="659.6" x2="172" y2="659.6" stroke="#5e5e5e" stroke-width="2.6"/>
<line x1="182" y1="583.15" x2="176" y2="583.15" stroke="#5e5e5e" stroke-width="2.6"/>
<line x1="182" y1="506.7" x2="172" y2="506.7" stroke="#5e5e5e" stroke-width="2.6"/>
<line x1="182" y1="430.25" x2="176" y2="430.25" stroke="#5e5e5e" stroke-width="2.6"/>
<line x1="182" y1="353.8" x2="172" y2="353.8" stroke="#5e5e5e" stroke-width="2.6"/>
<line x1="182" y1="826.5" x2="182" y2="836.5" stroke="#5e5e5e" stroke-width="2.6"/>
<line x1="226.7" y1="826.5" x2="226.7" y2="832.5" stroke="#5e5e5e" stroke-width="2.6"/>
<line x1="271.4" y1="826.5" x2="271.4" y2="836.5" stroke="#5e5e5e" stroke-width="2.6"/>
<line x1="316.1" y1="826.5" x2="316.1" y2="832.5" stroke="#5e5e5e" stroke-width="2.6"/>
<line x1="360.8" y1="826.5" x2="360.8" y2="836.5" stroke="#5e5e5e" stroke-width="2.6"/>
<line x1="405.5" y1="826.5" x2="405.5" y2="832.5" stroke="#5e5e5e" stroke-width="2.6"/>
<line x1="450.2" y1="826.5" x2="450.2" y2="836.5" stroke="#5e5e5e" stroke-width="2.6"/>
<line x1="494.9" y1="826.5" x2="494.9" y2="832.5" stroke="#5e5e5e" stroke-width="2.6"/>
<line x1="539.6" y1="826.5" x2="539.6" y2="836.5" stroke="#5e5e5e" stroke-width="2.6"/>
<line x1="584.3" y1="826.5" x2="584.3" y2="832.5" stroke="#5e5e5e" stroke-width="2.6"/>
<line x1="629" y1="826.5" x2="629" y2="836.5" stroke="#5e5e5e" stroke-width="2.6"/>
<circle cx="212" cy="374.8" r="16" fill="#2e2290" stroke="#1a1a1a" stroke-opacity="0.75" stroke-width="2"/>
<circle cx="212" cy="419" r="16" fill="#12a899" stroke="#1a1a1a" stroke-opacity="0.75" stroke-width="2"/>
<circle cx="212" cy="467" r="16" fill="#ff5812" stroke="#1a1a1a" stroke-opacity="0.75" stroke-width="2"/>
<circle cx="212" cy="516" r="16" fill="#ff0010" stroke="#1a1a1a" stroke-opacity="0.75" stroke-width="2"/>
<g clip-path="url(#cb)">
<circle cx="275.4" cy="823.8" r="15.5" fill="#ff0010" stroke="#1a1a1a" stroke-opacity="0.8" stroke-width="2.2"/>
<circle cx="293.6" cy="820.8" r="15.5" fill="#ff0010" stroke="#1a1a1a" stroke-opacity="0.8" stroke-width="2.2"/>
<circle cx="313.9" cy="813.7" r="15.5" fill="#ff0010" stroke="#1a1a1a" stroke-opacity="0.8" stroke-width="2.2"/>
<circle cx="340.3" cy="806.5" r="15.5" fill="#ff0010" stroke="#1a1a1a" stroke-opacity="0.8" stroke-width="2.2"/>
<circle cx="372.8" cy="799.4" r="15.5" fill="#ff0010" stroke="#1a1a1a" stroke-opacity="0.8" stroke-width="2.2"/>
<circle cx="404.2" cy="789.3" r="15.5" fill="#ff0010" stroke="#1a1a1a" stroke-opacity="0.8" stroke-width="2.2"/>
<circle cx="439.7" cy="782.2" r="15.5" fill="#ff0010" stroke="#1a1a1a" stroke-opacity="0.8" stroke-width="2.2"/>
<circle cx="482.4" cy="775.1" r="15.5" fill="#ff0010" stroke="#1a1a1a" stroke-opacity="0.8" stroke-width="2.2"/>
<circle cx="512.8" cy="768" r="15.5" fill="#ff0010" stroke="#1a1a1a" stroke-opacity="0.8" stroke-width="2.2"/>
<circle cx="545.3" cy="757.8" r="15.5" fill="#ff0010" stroke="#1a1a1a" stroke-opacity="0.8" stroke-width="2.2"/>
<circle cx="574.7" cy="756.8" r="15.5" fill="#ff0010" stroke="#1a1a1a" stroke-opacity="0.8" stroke-width="2.2"/>
<circle cx="604.1" cy="755.8" r="15.5" fill="#ff0010" stroke="#1a1a1a" stroke-opacity="0.8" stroke-width="2.2"/>
<circle cx="273.3" cy="819.7" r="15.5" fill="#ff5812" stroke="#1a1a1a" stroke-opacity="0.8" stroke-width="2.2"/>
<circle cx="289.6" cy="809.6" r="15.5" fill="#ff5812" stroke="#1a1a1a" stroke-opacity="0.8" stroke-width="2.2"/>
<circle cx="312.9" cy="799.4" r="15.5" fill="#ff5812" stroke="#1a1a1a" stroke-opacity="0.8" stroke-width="2.2"/>
<circle cx="340.3" cy="791.3" r="15.5" fill="#ff5812" stroke="#1a1a1a" stroke-opacity="0.8" stroke-width="2.2"/>
<circle cx="370.7" cy="778.1" r="15.5" fill="#ff5812" stroke="#1a1a1a" stroke-opacity="0.8" stroke-width="2.2"/>
<circle cx="386" cy="764" r="15.5" fill="#ff5812" stroke="#1a1a1a" stroke-opacity="0.8" stroke-width="2.2"/>
<circle cx="430.6" cy="744.7" r="15.5" fill="#ff5812" stroke="#1a1a1a" stroke-opacity="0.8" stroke-width="2.2"/>
<circle cx="463" cy="730.5" r="15.5" fill="#ff5812" stroke="#1a1a1a" stroke-opacity="0.8" stroke-width="2.2"/>
<circle cx="492.5" cy="725.4" r="15.5" fill="#ff5812" stroke="#1a1a1a" stroke-opacity="0.8" stroke-width="2.2"/>
<circle cx="539.2" cy="714.2" r="15.5" fill="#ff5812" stroke="#1a1a1a" stroke-opacity="0.8" stroke-width="2.2"/>
<circle cx="573.7" cy="702" r="15.5" fill="#ff5812" stroke="#1a1a1a" stroke-opacity="0.8" stroke-width="2.2"/>
<circle cx="604.1" cy="700" r="15.5" fill="#ff5812" stroke="#1a1a1a" stroke-opacity="0.8" stroke-width="2.2"/>
<circle cx="233.8" cy="823.8" r="15.5" fill="#12a899" stroke="#1a1a1a" stroke-opacity="0.8" stroke-width="2.2"/>
<circle cx="247" cy="819.7" r="15.5" fill="#12a899" stroke="#1a1a1a" stroke-opacity="0.8" stroke-width="2.2"/>
<circle cx="259" cy="809.6" r="15.5" fill="#12a899" stroke="#1a1a1a" stroke-opacity="0.8" stroke-width="2.2"/>
<circle cx="275.4" cy="796.4" r="15.5" fill="#12a899" stroke="#1a1a1a" stroke-opacity="0.8" stroke-width="2.2"/>
<circle cx="298.7" cy="770" r="15.5" fill="#12a899" stroke="#1a1a1a" stroke-opacity="0.8" stroke-width="2.2"/>
<circle cx="316" cy="747.7" r="15.5" fill="#12a899" stroke="#1a1a1a" stroke-opacity="0.8" stroke-width="2.2"/>
<circle cx="334.2" cy="721.3" r="15.5" fill="#12a899" stroke="#1a1a1a" stroke-opacity="0.8" stroke-width="2.2"/>
<circle cx="360.6" cy="682.8" r="15.5" fill="#12a899" stroke="#1a1a1a" stroke-opacity="0.8" stroke-width="2.2"/>
<circle cx="380.9" cy="657.4" r="15.5" fill="#12a899" stroke="#1a1a1a" stroke-opacity="0.8" stroke-width="2.2"/>
<circle cx="404.2" cy="625" r="15.5" fill="#12a899" stroke="#1a1a1a" stroke-opacity="0.8" stroke-width="2.2"/>
<circle cx="431.6" cy="615.8" r="15.5" fill="#12a899" stroke="#1a1a1a" stroke-opacity="0.8" stroke-width="2.2"/>
<circle cx="457" cy="602.6" r="15.5" fill="#12a899" stroke="#1a1a1a" stroke-opacity="0.8" stroke-width="2.2"/>
<circle cx="486.4" cy="596.5" r="15.5" fill="#12a899" stroke="#1a1a1a" stroke-opacity="0.8" stroke-width="2.2"/>
<circle cx="522" cy="585.4" r="15.5" fill="#12a899" stroke="#1a1a1a" stroke-opacity="0.8" stroke-width="2.2"/>
<circle cx="557.4" cy="568" r="15.5" fill="#12a899" stroke="#1a1a1a" stroke-opacity="0.8" stroke-width="2.2"/>
<circle cx="598" cy="566" r="15.5" fill="#12a899" stroke="#1a1a1a" stroke-opacity="0.8" stroke-width="2.2"/>
<circle cx="202.3" cy="816.7" r="15.5" fill="#2e2290" stroke="#1a1a1a" stroke-opacity="0.8" stroke-width="2.2"/>
<circle cx="213.5" cy="815.7" r="15.5" fill="#2e2290" stroke="#1a1a1a" stroke-opacity="0.8" stroke-width="2.2"/>
<circle cx="233.8" cy="803.5" r="15.5" fill="#2e2290" stroke="#1a1a1a" stroke-opacity="0.8" stroke-width="2.2"/>
<circle cx="246" cy="781.2" r="15.5" fill="#2e2290" stroke="#1a1a1a" stroke-opacity="0.8" stroke-width="2.2"/>
<circle cx="257.1" cy="751.8" r="15.5" fill="#2e2290" stroke="#1a1a1a" stroke-opacity="0.8" stroke-width="2.2"/>
<circle cx="268.3" cy="725.4" r="15.5" fill="#2e2290" stroke="#1a1a1a" stroke-opacity="0.8" stroke-width="2.2"/>
<circle cx="282.5" cy="706" r="15.5" fill="#2e2290" stroke="#1a1a1a" stroke-opacity="0.8" stroke-width="2.2"/>
<circle cx="292.6" cy="696" r="15.5" fill="#2e2290" stroke="#1a1a1a" stroke-opacity="0.8" stroke-width="2.2"/>
<circle cx="304.8" cy="657.4" r="15.5" fill="#2e2290" stroke="#1a1a1a" stroke-opacity="0.8" stroke-width="2.2"/>
<circle cx="315" cy="628" r="15.5" fill="#2e2290" stroke="#1a1a1a" stroke-opacity="0.8" stroke-width="2.2"/>
<circle cx="329.1" cy="627" r="15.5" fill="#2e2290" stroke="#1a1a1a" stroke-opacity="0.8" stroke-width="2.2"/>
<circle cx="342.5" cy="585" r="15.5" fill="#2e2290" stroke="#1a1a1a" stroke-opacity="0.8" stroke-width="2.2"/>
<circle cx="358.3" cy="558" r="15.5" fill="#2e2290" stroke="#1a1a1a" stroke-opacity="0.8" stroke-width="2.2"/>
<circle cx="375" cy="522.7" r="15.5" fill="#2e2290" stroke="#1a1a1a" stroke-opacity="0.8" stroke-width="2.2"/>
<circle cx="392.8" cy="531.2" r="15.5" fill="#2e2290" stroke="#1a1a1a" stroke-opacity="0.8" stroke-width="2.2"/>
<circle cx="422" cy="494.5" r="15.5" fill="#2e2290" stroke="#1a1a1a" stroke-opacity="0.8" stroke-width="2.2"/>
<circle cx="451.2" cy="477.5" r="15.5" fill="#2e2290" stroke="#1a1a1a" stroke-opacity="0.8" stroke-width="2.2"/>
<circle cx="480.4" cy="457.7" r="15.5" fill="#2e2290" stroke="#1a1a1a" stroke-opacity="0.8" stroke-width="2.2"/>
<circle cx="520.9" cy="433.2" r="15.5" fill="#2e2290" stroke="#1a1a1a" stroke-opacity="0.8" stroke-width="2.2"/>
<circle cx="545.4" cy="406.9" r="15.5" fill="#2e2290" stroke="#1a1a1a" stroke-opacity="0.8" stroke-width="2.2"/>
<circle cx="568" cy="390.9" r="15.5" fill="#2e2290" stroke="#1a1a1a" stroke-opacity="0.8" stroke-width="2.2"/>
<circle cx="592.5" cy="384.3" r="15.5" fill="#2e2290" stroke="#1a1a1a" stroke-opacity="0.8" stroke-width="2.2"/>
</g>
<rect x="182" y="339" width="448" height="487.5" fill="none" stroke="#606060" stroke-width="3.6"/>
<rect x="1846" y="0" width="599" height="630" fill="#fff"/>
<line x1="2248" y1="630" x2="2248" y2="723" stroke="#333" stroke-width="2.2"/>
<line x1="2000" y1="486.7" x2="1991" y2="486.7" stroke="#5e5e5e" stroke-width="2.4"/>
<line x1="2000" y1="436" x2="1995" y2="436" stroke="#5e5e5e" stroke-width="2.4"/>
<line x1="2000" y1="385.3" x2="1991" y2="385.3" stroke="#5e5e5e" stroke-width="2.4"/>
<line x1="2000" y1="334.6" x2="1995" y2="334.6" stroke="#5e5e5e" stroke-width="2.4"/>
<line x1="2000" y1="283.9" x2="1991" y2="283.9" stroke="#5e5e5e" stroke-width="2.4"/>
<line x1="2000" y1="233.2" x2="1995" y2="233.2" stroke="#5e5e5e" stroke-width="2.4"/>
<line x1="2000" y1="182.5" x2="1991" y2="182.5" stroke="#5e5e5e" stroke-width="2.4"/>
<line x1="2000" y1="131.8" x2="1995" y2="131.8" stroke="#5e5e5e" stroke-width="2.4"/>
<line x1="2000" y1="495.5" x2="2000" y2="503.5" stroke="#5e5e5e" stroke-width="2.4"/>
<line x1="2070" y1="495.5" x2="2070" y2="503.5" stroke="#5e5e5e" stroke-width="2.4"/>
<line x1="2140" y1="495.5" x2="2140" y2="503.5" stroke="#5e5e5e" stroke-width="2.4"/>
<line x1="2210" y1="495.5" x2="2210" y2="503.5" stroke="#5e5e5e" stroke-width="2.4"/>
<line x1="2280" y1="495.5" x2="2280" y2="503.5" stroke="#5e5e5e" stroke-width="2.4"/>
<line x1="2350" y1="495.5" x2="2350" y2="503.5" stroke="#5e5e5e" stroke-width="2.4"/>
<circle cx="2024.5" cy="104.2" r="11.8" fill="#7c2a9c" stroke="#1a1a1a" stroke-opacity="0.7" stroke-width="1.8"/>
<circle cx="2024.5" cy="142.6" r="11.8" fill="#0a78d2" stroke="#1a1a1a" stroke-opacity="0.7" stroke-width="1.8"/>
<circle cx="2024.5" cy="181.7" r="11.8" fill="#0a8a2c" stroke="#1a1a1a" stroke-opacity="0.7" stroke-width="1.8"/>
<g clip-path="url(#cc)">
<circle cx="2061.5" cy="475" r="10.6" fill="#0a8a2c" stroke="#1a1a1a" stroke-opacity="0.75" stroke-width="1.8"/>
<circle cx="2073" cy="459.8" r="10.6" fill="#0a8a2c" stroke="#1a1a1a" stroke-opacity="0.75" stroke-width="1.8"/>
<circle cx="2081.3" cy="447.6" r="10.6" fill="#0a8a2c" stroke="#1a1a1a" stroke-opacity="0.75" stroke-width="1.8"/>
<circle cx="2097.3" cy="433.2" r="10.6" fill="#0a8a2c" stroke="#1a1a1a" stroke-opacity="0.75" stroke-width="1.8"/>
<circle cx="2119.4" cy="408" r="10.6" fill="#0a8a2c" stroke="#1a1a1a" stroke-opacity="0.75" stroke-width="1.8"/>
<circle cx="2136.1" cy="392.1" r="10.6" fill="#0a8a2c" stroke="#1a1a1a" stroke-opacity="0.75" stroke-width="1.8"/>
<circle cx="2149.8" cy="374.6" r="10.6" fill="#0a8a2c" stroke="#1a1a1a" stroke-opacity="0.75" stroke-width="1.8"/>
<circle cx="2158.9" cy="378.4" r="10.6" fill="#0a8a2c" stroke="#1a1a1a" stroke-opacity="0.75" stroke-width="1.8"/>
<circle cx="2203.9" cy="373.2" r="10.6" fill="#0a8a2c" stroke="#1a1a1a" stroke-opacity="0.75" stroke-width="1.8"/>
<circle cx="2233.1" cy="382.5" r="10.6" fill="#0a8a2c" stroke="#1a1a1a" stroke-opacity="0.75" stroke-width="1.8"/>
<circle cx="2266.5" cy="407" r="10.6" fill="#0a8a2c" stroke="#1a1a1a" stroke-opacity="0.75" stroke-width="1.8"/>
<circle cx="2310.6" cy="425.6" r="10.6" fill="#0a8a2c" stroke="#1a1a1a" stroke-opacity="0.75" stroke-width="1.8"/>
<circle cx="2350" cy="436.7" r="10.6" fill="#0a8a2c" stroke="#1a1a1a" stroke-opacity="0.75" stroke-width="1.8"/>
<circle cx="2030" cy="486" r="10.6" fill="#0a78d2" stroke="#1a1a1a" stroke-opacity="0.75" stroke-width="1.8"/>
<circle cx="2052" cy="478" r="10.6" fill="#0a78d2" stroke="#1a1a1a" stroke-opacity="0.75" stroke-width="1.8"/>
<circle cx="2063" cy="463.6" r="10.6" fill="#0a78d2" stroke="#1a1a1a" stroke-opacity="0.75" stroke-width="1.8"/>
<circle cx="2072" cy="447" r="10.6" fill="#0a78d2" stroke="#1a1a1a" stroke-opacity="0.75" stroke-width="1.8"/>
<circle cx="2081.3" cy="420.2" r="10.6" fill="#0a78d2" stroke="#1a1a1a" stroke-opacity="0.75" stroke-width="1.8"/>
<circle cx="2095.8" cy="395.1" r="10.6" fill="#0a78d2" stroke="#1a1a1a" stroke-opacity="0.75" stroke-width="1.8"/>
<circle cx="2103.4" cy="368.5" r="10.6" fill="#0a78d2" stroke="#1a1a1a" stroke-opacity="0.75" stroke-width="1.8"/>
<circle cx="2125.4" cy="338.8" r="10.6" fill="#0a78d2" stroke="#1a1a1a" stroke-opacity="0.75" stroke-width="1.8"/>
<circle cx="2142.2" cy="316.7" r="10.6" fill="#0a78d2" stroke="#1a1a1a" stroke-opacity="0.75" stroke-width="1.8"/>
<circle cx="2159" cy="291.1" r="10.6" fill="#0a78d2" stroke="#1a1a1a" stroke-opacity="0.75" stroke-width="1.8"/>
<circle cx="2193.3" cy="257.3" r="10.6" fill="#0a78d2" stroke="#1a1a1a" stroke-opacity="0.75" stroke-width="1.8"/>
<circle cx="2221.1" cy="238.8" r="10.6" fill="#0a78d2" stroke="#1a1a1a" stroke-opacity="0.75" stroke-width="1.8"/>
<circle cx="2248.9" cy="228.1" r="10.6" fill="#0a78d2" stroke="#1a1a1a" stroke-opacity="0.75" stroke-width="1.8"/>
<circle cx="2272.1" cy="221.1" r="10.6" fill="#0a78d2" stroke="#1a1a1a" stroke-opacity="0.75" stroke-width="1.8"/>
<circle cx="2301.3" cy="217.9" r="10.6" fill="#0a78d2" stroke="#1a1a1a" stroke-opacity="0.75" stroke-width="1.8"/>
<circle cx="2324.5" cy="225.8" r="10.6" fill="#0a78d2" stroke="#1a1a1a" stroke-opacity="0.75" stroke-width="1.8"/>
<circle cx="2369.9" cy="250.8" r="10.6" fill="#0a78d2" stroke="#1a1a1a" stroke-opacity="0.75" stroke-width="1.8"/>
<circle cx="2022" cy="485.7" r="10.6" fill="#7c2a9c" stroke="#1a1a1a" stroke-opacity="0.75" stroke-width="1.8"/>
<circle cx="2038.7" cy="484.1" r="10.6" fill="#7c2a9c" stroke="#1a1a1a" stroke-opacity="0.75" stroke-width="1.8"/>
<circle cx="2049.4" cy="465.9" r="10.6" fill="#7c2a9c" stroke="#1a1a1a" stroke-opacity="0.75" stroke-width="1.8"/>
<circle cx="2061.5" cy="443" r="10.6" fill="#7c2a9c" stroke="#1a1a1a" stroke-opacity="0.75" stroke-width="1.8"/>
<circle cx="2075.2" cy="428.6" r="10.6" fill="#7c2a9c" stroke="#1a1a1a" stroke-opacity="0.75" stroke-width="1.8"/>
<circle cx="2085.9" cy="401.2" r="10.6" fill="#7c2a9c" stroke="#1a1a1a" stroke-opacity="0.75" stroke-width="1.8"/>
<circle cx="2097.3" cy="354" r="10.6" fill="#7c2a9c" stroke="#1a1a1a" stroke-opacity="0.75" stroke-width="1.8"/>
<circle cx="2118.2" cy="283.7" r="10.6" fill="#7c2a9c" stroke="#1a1a1a" stroke-opacity="0.75" stroke-width="1.8"/>
<circle cx="2136.7" cy="255" r="10.6" fill="#7c2a9c" stroke="#1a1a1a" stroke-opacity="0.75" stroke-width="1.8"/>
<circle cx="2162.2" cy="190" r="10.6" fill="#7c2a9c" stroke="#1a1a1a" stroke-opacity="0.75" stroke-width="1.8"/>
<circle cx="2183" cy="178.5" r="10.6" fill="#7c2a9c" stroke="#1a1a1a" stroke-opacity="0.75" stroke-width="1.8"/>
<circle cx="2228.5" cy="141.4" r="10.6" fill="#7c2a9c" stroke="#1a1a1a" stroke-opacity="0.75" stroke-width="1.8"/>
<circle cx="2259.6" cy="135.4" r="10.6" fill="#7c2a9c" stroke="#1a1a1a" stroke-opacity="0.75" stroke-width="1.8"/>
<circle cx="2288.8" cy="140" r="10.6" fill="#7c2a9c" stroke="#1a1a1a" stroke-opacity="0.75" stroke-width="1.8"/>
<circle cx="2317.5" cy="224.8" r="10.6" fill="#7c2a9c" stroke="#1a1a1a" stroke-opacity="0.75" stroke-width="1.8"/>
<circle cx="2353.7" cy="257.3" r="10.6" fill="#7c2a9c" stroke="#1a1a1a" stroke-opacity="0.75" stroke-width="1.8"/>
</g>
<rect x="2000" y="81" width="382" height="414.5" fill="none" stroke="#606060" stroke-width="3.6"/>
<g fill="#242424" stroke="#242424" stroke-width="0.55">
<text x="1932.6" y="190.6" font-size="48" >15</text>
<text x="1932.6" y="293" font-size="48" >10</text>
<text x="1959.36" y="394.5" font-size="48" >5</text>
<text x="1959.36" y="496" font-size="48" >0</text>
<text x="2026.88" y="552.5" font-size="51" >200</text>
<text x="2165.18" y="552.5" font-size="51" >600</text>
<text x="2300.26" y="552.5" font-size="51" >1000</text>
<text transform="translate(1910,579.64) rotate(-90)" font-size="50.9">Integrated Intensity (a.u.)</text>
<text x="1992.4" y="614.9" font-size="50.9" >Excitation (kW/cm<tspan font-size="30" dy="-20">2</tspan><tspan dy="20">)</tspan></text>
<text x="2316.36" y="125.5" font-size="49" >(c)</text>
<text x="2051.3" y="115.4" font-size="44" >20 K</text>
<text x="2051.3" y="155.5" font-size="44" >50 K</text>
<text x="2051.3" y="197" font-size="44" >80 K</text>
</g>
</g>
</svg>
</body></html>
